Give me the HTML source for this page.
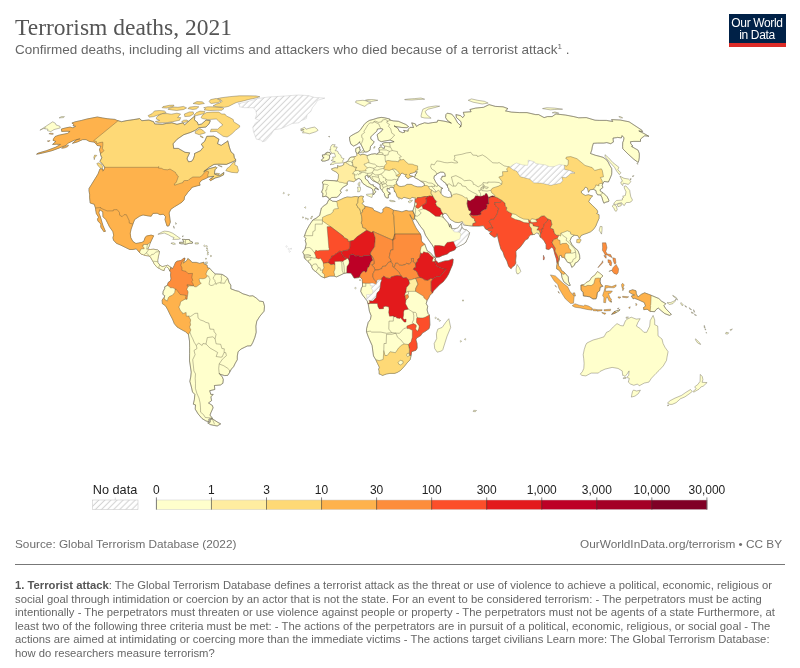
<!DOCTYPE html>
<html><head><meta charset="utf-8">
<style>
html,body{margin:0;padding:0;background:#fff;}
body{width:800px;height:668px;position:relative;overflow:hidden;font-family:"Liberation Sans",Arial,sans-serif;}
.title{position:absolute;left:15px;top:11.8px;font-family:"Liberation Serif","Times New Roman",serif;font-size:23.5px;color:#555;white-space:nowrap;line-height:30px;}
.sub{position:absolute;left:15px;top:40.6px;font-size:13.5px;color:#666;white-space:nowrap;line-height:17px;}
.sub sup{font-size:8px;vertical-align:0;position:relative;top:-5px;}
.logo{position:absolute;left:728.5px;top:14px;width:57px;height:32.5px;background:#002147;border-bottom:0;color:#fff;text-align:center;font-size:12px;line-height:12px;letter-spacing:-0.35px;box-sizing:border-box;padding-top:3px;}
.logo:after{content:"";position:absolute;left:0;right:0;bottom:0;height:3.5px;background:#dc2b27;}
.src{position:absolute;left:15px;top:537.3px;line-height:14px;font-size:11.8px;color:#6e6e6e;white-space:nowrap;}
.cc{position:absolute;right:18px;top:537.3px;line-height:14px;font-size:11.8px;color:#6e6e6e;white-space:nowrap;}
.hr{position:absolute;left:15px;width:770px;top:563.7px;height:1px;background:#777;}
.fn{position:absolute;left:15px;top:579.3px;width:785px;font-size:11.27px;line-height:13.5px;color:#666;white-space:nowrap;}
.fn b{color:#555;}
svg{position:absolute;left:0;top:0;}
</style></head><body>
<div class="title">Terrorism deaths, 2021</div>
<div class="sub">Confirmed deaths, including all victims and attackers who died because of a terrorist attack<sup>1</sup> .</div>
<div class="logo">Our World<br>in Data</div>
<svg width="800" height="668" viewBox="0 0 800 668"><defs><pattern id="h" width="4.3" height="4.3" patternUnits="userSpaceOnUse" patternTransform="rotate(45)"><rect width="4.3" height="4.3" fill="#fff"/><line x1="2" y1="0" x2="2" y2="4.3" stroke="#c6c6c6" stroke-width="0.8"/></pattern><clipPath id="c0"><path d="M61.4,129.0L66.7,127.7L70.1,127.1L73.0,127.9L75.7,126.2L73.0,125.8L74.0,124.3L71.9,123.1L74.9,121.9L81.7,120.4L87.0,119.0L97.3,117.0L102.7,118.0L107.8,118.8L114.8,119.4L116.8,120.3L121.6,121.7L126.0,120.7L133.6,119.6L139.6,118.6L141.9,120.7L148.9,120.0L153.6,121.7L154.7,123.9L162.4,124.3L166.4,123.4L171.9,122.8L177.0,124.3L183.1,122.8L184.6,124.9L188.0,121.7L194.9,115.8L194.5,119.6L195.7,121.1L197.3,122.1L198.4,124.9L201.7,123.9L206.1,120.0L210.4,120.7L209.0,123.9L205.9,127.1L198.9,127.7L195.3,130.3L190.4,132.5L183.8,134.7L177.2,139.2L173.2,143.7L173.2,144.4L173.7,148.4L178.3,148.4L182.3,150.7L185.0,152.3L189.7,152.8L187.3,157.8L187.1,159.0L188.5,161.8L191.6,161.3L193.3,159.0L194.5,155.4L194.5,153.5L200.5,150.7L203.3,147.2L201.3,144.2L204.6,141.4L206.8,136.3L213.8,136.1L219.0,139.2L217.5,143.7L221.2,145.4L226.4,141.9L227.8,140.8L229.4,147.2L231.0,151.9L233.8,154.2L234.4,157.8L236.0,160.1L233.1,161.6L226.4,164.4L218.8,164.2L214.0,164.4L209.1,167.3L203.7,171.7L206.1,170.2L209.6,168.5L216.0,166.8L217.0,167.8L215.0,169.8L214.6,172.2L214.5,174.1L217.2,175.1L220.0,175.3L223.9,172.4L223.5,174.9L219.6,176.8L215.3,178.0L210.5,180.7L209.5,179.5L213.8,176.3L208.6,177.0L205.1,178.8L201.7,180.2L199.4,182.9L200.1,185.2L196.9,185.9L191.8,187.4L190.7,189.3L187.8,192.3L186.1,194.8L184.5,196.8L184.1,199.8L181.9,202.2L178.3,204.5L174.6,206.7L170.9,209.2L169.1,212.9L169.9,218.7L170.3,222.1L168.9,225.9L167.0,226.1L166.2,223.4L165.0,219.6L165.6,216.7L163.3,214.2L160.0,214.7L157.2,213.2L152.9,213.4L151.2,216.2L148.1,215.9L143.0,214.9L139.6,216.2L134.6,219.6L132.9,224.1L131.1,229.1L130.2,233.3L130.8,237.8L132.9,241.5L135.9,243.5L141.4,242.5L143.7,241.5L145.4,237.1L146.6,236.1L151.1,235.1L153.6,235.8L151.5,240.3L150.0,243.5L149.0,246.5L147.5,249.2L150.3,249.5L153.6,249.2L157.9,250.0L159.5,251.5L158.4,256.5L157.7,260.2L157.9,262.7L160.0,265.2L162.1,266.7L165.4,265.9L167.6,265.2L170.0,266.7L171.0,267.4L169.8,270.9L168.6,268.4L166.5,266.7L164.6,268.4L164.1,270.6L161.9,269.9L159.2,268.4L157.2,267.4L154.5,264.4L153.2,261.9L150.7,257.5L149.3,256.0L145.4,255.5L141.2,254.0L139.5,252.5L136.3,248.8L132.9,249.5L129.7,249.5L125.6,247.5L120.5,245.0L116.4,243.3L113.6,240.3L112.9,237.8L113.7,235.3L112.9,231.6L109.4,226.6L107.6,222.9L105.9,219.6L103.0,216.7L102.8,211.7L99.7,209.7L98.8,212.9L100.3,216.7L101.4,220.4L102.9,225.4L104.2,228.6L105.4,231.3L103.8,231.6L100.8,227.1L100.9,224.1L98.0,221.1L97.5,219.1L98.6,217.2L96.3,213.4L95.7,209.7L95.5,208.0L94.2,204.2L90.2,203.0L89.6,197.3L89.7,194.8L89.0,190.6L89.1,188.4L91.6,184.4L95.4,178.3L98.0,174.1L100.0,168.8L103.0,169.3L102.8,171.2L104.5,169.0L104.6,167.3L104.0,166.1L102.5,164.2L99.9,161.3L101.8,157.8L100.5,154.7L100.5,153.5L100.1,151.9L99.5,149.5L100.9,146.1L97.1,145.4L95.9,143.7L94.0,142.1L89.4,141.4L86.1,139.6L82.6,139.6L77.4,141.9L72.5,143.3L76.8,139.6L80.1,138.8L74.0,140.3L68.3,143.1L65.8,145.4L58.1,148.4L51.9,150.7L45.6,152.3L39.5,153.7L36.6,154.2L37.9,153.2L46.5,150.7L55.7,147.2L60.6,144.4L56.4,144.2L52.6,144.4L55.9,141.4L53.0,140.3L54.0,138.1L55.2,136.5L58.9,135.2L63.1,134.3L67.6,133.4L70.1,131.4L67.0,131.2L61.7,131.4Z" clip-rule="evenodd"/></clipPath><clipPath id="c28"><path d="M179.5,243.4L181.4,243.8L183.6,243.8L185.2,244.5L189.1,243.3L192.3,243.3L192.6,242.0L189.7,240.8L189.4,239.5L185.5,239.5L182.3,239.3L183.4,240.8L184.0,242.2L181.6,242.3L179.6,242.3Z" clip-rule="evenodd"/></clipPath><clipPath id="c35"><path d="M171.0,267.4L172.3,268.9L174.2,265.7L175.5,262.4L177.1,261.2L181.1,260.4L183.4,258.5L185.0,258.0L184.4,260.7L183.3,263.2L185.4,261.7L187.2,260.2L187.8,258.5L190.9,260.9L191.9,262.4L196.3,262.4L199.5,263.4L204.0,262.2L203.9,263.9L207.1,265.2L207.5,267.7L209.6,268.2L212.4,271.4L215.2,273.9L218.9,274.1L222.2,274.4L225.4,276.4L227.6,278.1L229.1,282.6L230.8,285.1L230.8,288.8L234.1,290.0L235.2,290.5L238.5,291.3L242.9,293.8L246.3,294.8L249.6,296.0L252.9,295.8L256.2,298.0L259.5,301.0L263.3,301.7L264.5,306.2L264.1,311.2L259.9,316.2L256.8,321.1L255.9,326.1L256.2,332.3L254.9,337.3L252.9,342.3L251.0,345.8L247.3,346.0L244.2,347.5L241.1,349.0L238.1,351.7L237.3,356.0L237.3,359.7L235.2,363.4L233.6,366.7L231.4,369.1L229.5,372.6L227.7,375.4L224.6,375.6L220.6,374.4L219.2,373.4L222.4,377.1L223.3,379.6L222.9,383.3L220.4,385.0L214.4,385.5L214.8,389.5L209.7,390.7L210.8,394.4L213.2,394.4L210.9,396.9L211.6,400.6L208.5,403.0L212.3,405.4L213.1,407.8L210.9,412.7L210.0,415.1L212.5,418.4L208.9,419.1L209.1,421.7L206.0,421.0L202.1,418.6L198.1,413.9L195.2,409.1L195.5,404.9L193.3,404.2L194.4,399.3L194.8,394.4L192.5,392.0L191.4,387.0L189.8,381.3L190.7,377.1L191.2,372.1L190.3,365.9L189.5,360.9L189.6,353.5L189.6,347.3L189.5,341.0L188.4,334.4L185.6,331.8L181.0,329.3L177.0,326.9L174.3,323.6L172.5,319.1L169.9,314.2L167.5,309.2L165.4,305.7L162.4,303.7L162.1,300.0L164.2,297.3L164.8,295.8L162.8,294.3L163.2,291.3L164.7,288.6L164.7,286.8L167.4,285.3L168.1,282.6L170.4,280.8L171.0,278.8L170.5,275.1L170.8,272.6L169.8,270.9Z" clip-rule="evenodd"/></clipPath><clipPath id="c36"><path d="M212.3,418.9L210.1,419.8L210.2,422.2L207.7,422.9L210.3,424.6L214.4,425.5L217.2,426.0L220.7,423.9L217.6,422.2L213.9,419.8Z" clip-rule="evenodd"/></clipPath><clipPath id="c37"><path d="M328.7,199.8L329.9,199.5L332.6,201.2L336.3,201.5L340.9,199.5L344.0,198.0L347.1,197.0L351.2,197.3L355.3,196.5L358.6,196.9L361.0,196.0L362.1,196.3L363.5,196.5L362.6,198.3L363.1,200.5L363.7,201.7L361.9,203.5L363.9,205.2L364.9,206.3L368.1,207.0L372.8,208.2L373.9,210.4L377.8,211.9L381.0,213.4L383.1,211.9L382.9,209.2L385.9,207.0L389.1,207.7L393.5,210.2L397.7,210.9L402.0,211.9L406.1,210.4L408.9,211.2L412.9,210.9L414.8,215.4L414.0,219.1L413.7,219.9L412.1,218.4L409.9,214.4L409.9,215.4L412.2,219.6L413.5,222.9L416.0,227.9L417.6,230.3L420.4,234.1L421.2,236.6L421.4,240.3L422.2,242.3L424.7,244.0L426.5,249.0L427.4,251.0L430.4,252.7L433.6,256.5L435.1,257.2L435.6,259.2L434.4,259.9L435.5,260.2L438.4,262.9L441.7,261.9L444.9,260.9L448.2,260.7L452.7,258.9L453.2,259.4L452.9,262.7L452.3,265.2L450.7,268.9L448.6,273.9L446.5,277.6L443.2,281.8L440.0,284.3L436.7,287.6L433.4,291.0L432.5,293.0L430.0,295.0L428.9,297.5L427.1,300.5L426.2,303.7L427.7,306.2L427.1,309.9L428.2,313.7L429.4,314.9L429.7,319.9L429.9,324.9L429.1,328.6L425.7,331.1L422.3,333.1L420.7,335.6L416.6,338.1L415.9,339.8L417.0,343.5L417.2,348.0L416.0,350.2L411.6,351.7L411.1,355.5L410.1,359.7L407.1,362.9L404.0,366.7L400.6,370.4L397.3,372.4L394.5,373.4L389.9,373.4L386.7,373.9L382.5,375.4L380.0,374.1L379.2,374.1L379.2,370.9L378.6,369.6L379.4,367.2L377.5,363.4L375.9,359.9L373.5,356.0L372.8,351.0L372.1,345.5L370.1,341.0L368.0,336.1L366.5,331.8L366.6,328.6L368.2,322.4L370.4,319.4L371.1,315.7L369.4,311.2L368.2,304.0L367.7,303.2L367.3,301.2L365.3,298.5L362.5,295.0L360.7,291.3L361.4,288.1L362.5,286.3L362.5,283.1L362.2,279.3L360.5,277.4L359.6,277.1L358.5,277.6L356.3,277.9L354.1,278.1L352.3,275.1L350.8,273.1L346.8,272.9L344.4,273.4L343.5,273.6L340.5,275.1L336.5,276.9L334.1,276.1L329.9,276.1L324.4,277.9L321.1,276.4L317.2,272.9L315.6,271.6L313.5,270.1L311.9,267.7L311.7,266.4L310.6,264.4L308.7,262.2L308.0,261.7L305.9,259.4L304.4,258.2L304.2,256.2L304.2,255.0L302.7,252.2L305.0,249.0L306.2,244.0L305.2,240.5L305.9,238.6L304.2,236.6L306.5,230.3L309.2,225.4L312.8,220.0L316.5,217.9L319.7,215.4L320.5,211.7L321.4,208.0L324.2,205.5L326.7,204.0Z" clip-rule="evenodd"/></clipPath><clipPath id="c39"><path d="M412.9,210.9L414.0,207.2L414.3,206.5L414.9,202.7L415.1,199.5L415.5,197.8L414.1,197.8L412.0,197.3L410.1,199.0L406.9,198.0L403.9,197.3L401.8,198.8L398.6,197.5L397.1,196.8L396.1,193.3L394.5,191.1L394.1,189.3L393.5,187.6L390.4,187.1L389.1,188.6L389.6,189.3L387.3,188.1L387.1,190.6L388.4,191.8L390.1,194.3L388.4,194.5L388.3,198.0L386.9,198.0L385.6,197.3L384.4,194.8L384.5,193.6L383.2,192.3L382.0,190.3L380.2,188.1L380.1,185.4L379.9,184.7L377.9,183.2L375.8,182.0L372.8,180.7L371.0,178.8L369.5,176.3L368.4,177.5L367.7,175.8L366.8,175.3L365.1,176.3L365.5,179.0L368.0,180.7L369.3,183.4L371.4,184.7L373.5,184.9L373.1,185.9L375.2,186.9L378.4,189.1L378.3,189.8L375.3,188.1L374.4,190.1L375.8,191.8L374.6,193.3L373.9,194.5L373.1,194.3L373.1,191.8L372.6,189.3L370.8,187.9L369.6,187.4L367.1,186.4L365.4,185.2L362.9,183.4L361.9,182.0L361.2,180.0L359.7,178.8L358.1,178.5L356.8,179.7L355.8,180.0L353.9,181.7L351.5,181.2L348.9,180.7L347.1,182.0L347.3,183.4L347.3,184.7L345.3,185.9L342.5,187.6L340.3,190.6L341.3,192.6L339.7,194.3L339.3,195.3L336.8,197.3L331.8,197.5L329.7,199.0L328.1,198.0L327.7,197.0L325.7,196.3L322.6,196.8L322.9,193.1L321.5,192.3L322.9,188.8L323.2,184.7L322.3,182.0L325.0,180.2L330.0,180.5L333.9,180.7L337.3,181.0L338.3,178.3L338.5,174.6L336.6,172.2L332.2,170.0L331.6,168.8L335.1,167.8L337.8,168.1L337.5,165.6L339.0,166.4L341.3,166.1L343.8,164.7L343.9,162.8L345.6,162.3L347.3,161.6L348.4,160.1L349.7,157.8L351.2,157.1L353.9,156.8L356.1,156.3L357.0,155.4L356.7,153.2L355.7,151.6L355.7,148.8L356.4,148.1L359.8,146.8L359.6,149.3L360.7,149.8L359.5,151.2L358.7,152.3L358.4,153.4L360.9,155.4L361.2,154.4L364.0,154.4L367.2,155.6L371.4,154.2L375.0,153.7L377.1,154.3L377.7,153.2L379.4,152.3L379.2,150.5L378.8,148.4L379.9,147.0L381.5,147.0L382.8,148.1L384.3,148.4L384.6,146.3L382.7,144.4L382.5,143.3L385.1,142.6L390.4,142.6L394.1,141.7L390.8,140.3L389.5,140.2L384.8,141.0L381.2,141.7L378.3,140.1L377.7,137.2L377.1,134.7L382.0,130.7L383.0,129.2L381.0,128.6L377.5,129.0L376.7,131.4L373.3,134.3L370.7,137.0L370.9,139.2L373.4,141.0L374.2,141.9L372.6,144.2L370.5,146.5L370.0,150.2L367.1,151.9L364.5,152.1L363.8,150.2L362.3,147.0L360.8,144.0L359.7,143.1L359.6,141.7L357.8,144.0L353.6,146.1L350.9,144.2L349.7,140.3L349.5,137.0L352.0,135.2L355.3,133.4L358.6,131.8L360.9,129.2L362.3,127.1L364.4,124.3L366.6,122.1L369.5,120.4L373.3,119.4L377.7,118.0L381.2,117.4L384.7,117.8L389.8,119.0L389.9,120.1L393.5,120.9L398.4,121.3L405.9,124.5L408.6,126.6L407.0,127.7L401.9,127.5L397.6,126.8L395.0,126.4L394.0,125.8L398.1,128.6L399.4,131.4L402.7,132.7L405.0,132.0L403.6,130.3L408.1,131.2L408.3,129.2L410.1,127.3L413.5,127.5L412.5,124.9L411.7,122.8L415.4,123.9L416.4,126.4L419.0,124.7L424.6,122.8L428.1,123.4L432.6,122.6L437.2,122.1L437.8,120.2L443.8,121.1L448.4,122.1L451.4,123.2L447.4,120.4L445.6,117.6L445.9,114.6L447.2,113.2L451.6,114.0L454.7,117.6L457.6,122.8L461.2,126.0L459.7,127.5L461.4,124.9L461.0,121.7L456.5,117.6L455.9,114.6L460.5,115.6L462.8,117.6L464.3,115.6L463.3,112.3L471.1,111.7L469.9,109.5L475.6,108.1L483.5,107.3L489.1,104.6L495.4,106.4L503.1,106.8L507.9,108.6L505.5,110.9L511.4,112.1L519.4,112.6L527.0,112.6L535.6,114.6L538.6,114.6L544.1,117.6L547.4,116.6L552.1,116.6L555.2,114.4L556.2,114.0L565.3,115.0L573.8,116.6L578.7,117.8L586.3,117.6L595.0,120.2L599.3,120.4L606.4,120.4L612.7,121.5L611.6,119.6L620.1,120.0L629.1,121.8L641.9,130.2L642.6,131.6L638.8,130.9L644.2,133.6L648.9,136.3L644.7,135.8L642.5,137.4L640.5,139.2L640.5,141.4L633.8,141.4L630.5,141.7L630.8,143.7L632.8,146.1L631.6,146.5L638.1,150.2L639.3,153.5L639.3,157.3L638.9,160.1L638.2,162.5L633.5,159.0L628.2,154.2L622.8,148.8L622.6,146.5L622.7,142.6L623.6,140.3L624.0,137.9L622.1,135.6L621.4,137.9L617.4,137.4L616.8,137.6L613.0,138.1L613.4,142.1L610.7,143.7L606.8,142.6L603.8,143.1L597.6,143.1L593.4,143.3L592.3,146.8L591.8,150.0L590.5,153.5L595.8,155.4L598.0,155.9L603.0,157.3L606.5,159.7L608.4,162.5L609.5,164.9L611.7,168.5L611.8,172.2L611.6,174.6L610.1,178.3L608.4,182.0L604.1,181.5L602.8,183.7L602.2,185.6L603.0,187.4L600.0,189.8L600.5,191.3L603.2,192.8L607.2,196.8L608.9,200.2L608.6,201.5L605.8,202.2L603.9,203.2L602.8,200.5L601.9,197.3L600.6,195.0L597.6,194.8L596.3,192.8L596.0,190.6L593.4,189.3L589.8,189.8L588.5,192.3L587.5,188.1L585.3,187.1L583.7,189.8L581.3,191.3L581.5,193.1L585.2,195.5L588.4,194.8L592.6,196.0L590.5,198.0L588.6,201.7L592.5,205.5L596.8,209.7L597.9,212.2L596.5,213.4L599.0,214.7L599.0,218.4L597.0,222.9L595.8,226.1L593.3,229.6L590.5,231.8L586.9,233.3L584.4,234.1L581.4,235.3L579.4,238.3L577.8,235.6L574.3,235.2L571.4,237.3L570.0,240.8L572.1,244.8L574.8,247.8L578.0,250.7L579.6,255.2L579.8,258.9L577.5,261.9L575.0,263.2L574.5,265.2L571.8,267.4L570.7,264.4L569.9,262.9L567.7,262.4L566.4,260.7L566.1,259.7L563.9,257.5L561.7,257.2L561.3,255.2L559.4,255.7L559.5,258.9L558.3,262.7L558.7,265.9L560.4,267.7L561.6,270.6L563.9,271.9L565.3,273.4L568.3,276.9L568.5,281.3L570.3,285.3L568.8,285.6L563.8,281.8L562.0,277.6L561.3,273.4L560.9,272.8L559.0,270.1L556.7,268.9L556.6,266.4L557.1,263.9L556.4,258.9L554.8,254.0L553.6,249.0L551.8,247.0L548.9,249.5L546.2,249.0L546.1,244.5L544.1,240.8L541.5,237.8L540.3,237.3L538.6,233.3L536.4,232.8L534.9,234.3L533.0,234.6L530.7,234.8L528.8,236.6L528.0,238.6L525.3,240.0L523.1,243.3L519.9,247.5L517.3,249.5L515.8,251.5L516.1,256.0L515.6,260.2L515.8,263.2L514.2,265.7L512.5,266.7L511.1,268.7L508.7,266.4L506.9,260.9L504.4,256.5L503.0,252.0L500.9,249.0L498.9,241.8L498.0,237.8L497.6,236.1L497.1,233.6L496.4,236.6L494.1,237.3L490.1,234.3L489.5,233.1L492.1,231.6L488.8,231.1L487.4,229.8L485.6,229.1L484.5,227.1L483.3,225.6L479.1,226.1L474.8,226.1L472.8,226.1L468.3,225.6L463.5,224.9L462.2,221.6L458.3,222.6L455.0,222.1L450.4,219.4L448.6,216.7L446.5,213.7L444.2,213.2L443.5,214.3L442.4,214.3L442.6,215.9L443.6,217.8L446.3,220.9L448.1,222.9L449.8,227.1L450.1,223.9L451.4,226.1L451.6,227.6L451.7,228.6L454.7,228.6L457.8,228.1L460.3,224.9L460.8,224.0L461.4,223.4L461.8,226.6L461.8,226.9L463.3,229.1L466.8,230.1L469.7,232.8L468.0,237.6L466.1,241.5L466.2,242.0L463.5,244.0L461.0,245.3L458.3,246.5L456.4,247.4L454.6,250.0L449.9,251.7L447.2,254.0L442.5,255.5L439.3,257.0L436.0,257.3L435.3,255.7L434.7,252.7L434.2,250.2L434.0,248.0L432.1,244.8L429.7,241.5L425.5,235.3L423.6,230.3L420.6,226.6L418.9,224.1L415.7,219.1L414.4,218.9L414.9,215.8L414.9,215.3L414.8,215.4ZM397.1,184.4L396.3,182.7L396.7,181.0L397.8,180.2L397.8,178.8L399.3,176.6L400.2,175.1L401.1,173.4L402.5,173.2L404.6,174.4L406.8,174.4L405.1,176.1L407.2,178.0L408.2,178.5L410.6,177.0L412.8,176.3L409.7,175.6L409.5,174.4L410.0,173.6L412.8,172.9L414.6,172.2L415.3,171.9L417.2,171.7L416.3,173.9L415.2,174.6L415.7,175.8L414.4,176.3L413.5,176.6L415.0,177.8L418.3,179.5L420.4,181.0L424.0,183.2L424.6,185.5L421.6,186.9L417.6,186.9L414.5,186.1L411.2,184.4L407.1,184.4L404.4,186.1L401.2,186.5L399.8,186.4L397.7,185.6ZM440.9,193.3L442.5,195.5L444.8,196.8L448.1,197.5L451.9,197.0L451.6,195.9L450.6,191.8L448.7,190.6L448.8,188.8L447.5,187.1L447.5,185.2L446.5,185.2L445.8,183.2L443.2,181.5L440.6,178.8L441.8,178.0L442.0,176.3L445.3,176.3L444.9,173.4L443.2,172.2L440.3,172.2L437.6,173.6L436.8,173.6L436.2,175.1L434.4,175.8L433.9,178.3L435.7,182.0L437.7,184.7L440.2,186.9L442.8,188.4L441.3,188.8L441.1,191.3Z" clip-rule="evenodd"/></clipPath><clipPath id="c75"><path d="M322.0,161.1L324.8,161.1L328.9,159.7L329.7,157.1L329.4,155.4L330.7,154.2L329.9,152.5L327.1,152.3L325.2,153.5L325.2,154.7L322.4,154.9L322.6,157.1L324.1,157.5L322.9,158.7L321.3,159.9Z" clip-rule="evenodd"/></clipPath><clipPath id="c99"><path d="M611.6,314.4L614.0,311.7L620.1,309.7L618.4,311.2L615.0,313.2Z" clip-rule="evenodd"/></clipPath><clipPath id="c100"><path d="M580.9,285.1L584.2,284.6L586.1,282.6L589.6,280.8L591.7,277.4L594.9,275.1L597.5,271.6L599.6,273.1L603.0,275.9L600.5,278.1L600.1,281.3L600.7,283.8L602.9,286.3L600.3,287.1L599.6,290.8L597.4,292.5L596.8,296.8L596.1,298.8L593.0,299.0L589.6,296.8L586.3,296.3L583.4,296.0L583.1,292.5L581.0,290.0Z" clip-rule="evenodd"/></clipPath><clipPath id="c101"><path d="M629.4,290.8L632.7,289.8L636.0,290.8L636.3,293.8L638.0,297.0L641.4,294.3L644.7,292.8L651.2,295.3L658.8,298.5L661.6,301.2L665.8,303.7L663.9,305.7L665.8,308.7L671.4,314.4L669.5,315.4L664.9,313.7L661.2,310.7L658.2,308.0L655.8,309.9L654.6,311.7L650.2,311.4L647.1,309.2L643.8,309.7L643.5,307.5L645.6,306.2L644.3,302.5L639.0,300.0L634.6,298.3L633.1,298.8L631.4,296.0L634.7,295.0L632.6,294.3L629.3,292.3Z" clip-rule="evenodd"/></clipPath></defs><g stroke="#57533f" stroke-width="0.38" stroke-linejoin="round"><path d="M61.4,129.0L66.7,127.7L70.1,127.1L73.0,127.9L75.7,126.2L73.0,125.8L74.0,124.3L71.9,123.1L74.9,121.9L81.7,120.4L87.0,119.0L97.3,117.0L102.7,118.0L107.8,118.8L114.8,119.4L116.8,120.3L121.6,121.7L126.0,120.7L133.6,119.6L139.6,118.6L141.9,120.7L148.9,120.0L153.6,121.7L154.7,123.9L162.4,124.3L166.4,123.4L171.9,122.8L177.0,124.3L183.1,122.8L184.6,124.9L188.0,121.7L194.9,115.8L194.5,119.6L195.7,121.1L197.3,122.1L198.4,124.9L201.7,123.9L206.1,120.0L210.4,120.7L209.0,123.9L205.9,127.1L198.9,127.7L195.3,130.3L190.4,132.5L183.8,134.7L177.2,139.2L173.2,143.7L173.2,144.4L173.7,148.4L178.3,148.4L182.3,150.7L185.0,152.3L189.7,152.8L187.3,157.8L187.1,159.0L188.5,161.8L191.6,161.3L193.3,159.0L194.5,155.4L194.5,153.5L200.5,150.7L203.3,147.2L201.3,144.2L204.6,141.4L206.8,136.3L213.8,136.1L219.0,139.2L217.5,143.7L221.2,145.4L226.4,141.9L227.8,140.8L229.4,147.2L231.0,151.9L233.8,154.2L234.4,157.8L236.0,160.1L233.1,161.6L226.4,164.4L218.8,164.2L214.0,164.4L209.1,167.3L203.7,171.7L206.1,170.2L209.6,168.5L216.0,166.8L217.0,167.8L215.0,169.8L214.6,172.2L214.5,174.1L217.2,175.1L220.0,175.3L223.9,172.4L223.5,174.9L219.6,176.8L215.3,178.0L210.5,180.7L209.5,179.5L213.8,176.3L208.6,177.0L205.1,178.8L201.7,180.2L199.4,182.9L200.1,185.2L196.9,185.9L191.8,187.4L190.7,189.3L187.8,192.3L186.1,194.8L184.5,196.8L184.1,199.8L181.9,202.2L178.3,204.5L174.6,206.7L170.9,209.2L169.1,212.9L169.9,218.7L170.3,222.1L168.9,225.9L167.0,226.1L166.2,223.4L165.0,219.6L165.6,216.7L163.3,214.2L160.0,214.7L157.2,213.2L152.9,213.4L151.2,216.2L148.1,215.9L143.0,214.9L139.6,216.2L134.6,219.6L132.9,224.1L131.1,229.1L130.2,233.3L130.8,237.8L132.9,241.5L135.9,243.5L141.4,242.5L143.7,241.5L145.4,237.1L146.6,236.1L151.1,235.1L153.6,235.8L151.5,240.3L150.0,243.5L149.0,246.5L147.5,249.2L150.3,249.5L153.6,249.2L157.9,250.0L159.5,251.5L158.4,256.5L157.7,260.2L157.9,262.7L160.0,265.2L162.1,266.7L165.4,265.9L167.6,265.2L170.0,266.7L171.0,267.4L169.8,270.9L168.6,268.4L166.5,266.7L164.6,268.4L164.1,270.6L161.9,269.9L159.2,268.4L157.2,267.4L154.5,264.4L153.2,261.9L150.7,257.5L149.3,256.0L145.4,255.5L141.2,254.0L139.5,252.5L136.3,248.8L132.9,249.5L129.7,249.5L125.6,247.5L120.5,245.0L116.4,243.3L113.6,240.3L112.9,237.8L113.7,235.3L112.9,231.6L109.4,226.6L107.6,222.9L105.9,219.6L103.0,216.7L102.8,211.7L99.7,209.7L98.8,212.9L100.3,216.7L101.4,220.4L102.9,225.4L104.2,228.6L105.4,231.3L103.8,231.6L100.8,227.1L100.9,224.1L98.0,221.1L97.5,219.1L98.6,217.2L96.3,213.4L95.7,209.7L95.5,208.0L94.2,204.2L90.2,203.0L89.6,197.3L89.7,194.8L89.0,190.6L89.1,188.4L91.6,184.4L95.4,178.3L98.0,174.1L100.0,168.8L103.0,169.3L102.8,171.2L104.5,169.0L104.6,167.3L104.0,166.1L102.5,164.2L99.9,161.3L101.8,157.8L100.5,154.7L100.5,153.5L100.1,151.9L99.5,149.5L100.9,146.1L97.1,145.4L95.9,143.7L94.0,142.1L89.4,141.4L86.1,139.6L82.6,139.6L77.4,141.9L72.5,143.3L76.8,139.6L80.1,138.8L74.0,140.3L68.3,143.1L65.8,145.4L58.1,148.4L51.9,150.7L45.6,152.3L39.5,153.7L36.6,154.2L37.9,153.2L46.5,150.7L55.7,147.2L60.6,144.4L56.4,144.2L52.6,144.4L55.9,141.4L53.0,140.3L54.0,138.1L55.2,136.5L58.9,135.2L63.1,134.3L67.6,133.4L70.1,131.4L67.0,131.2L61.7,131.4Z" fill="#fed976" fill-rule="evenodd"/><g clip-path="url(#c0)"><path d="M131.8,109.5L93.6,140.8L96.4,141.4L96.8,143.7L99.7,142.6L102.8,142.1L102.9,144.9L102.4,148.4L103.9,150.7L102.2,152.5L100.0,153.7L86.7,164.9L-12.8,164.9L66.6,109.5Z" fill="#feb24c"/><path d="M90.8,167.3L157.8,167.3L158.8,166.6L158.5,168.1L161.5,168.3L163.8,169.5L167.6,169.8L170.0,169.0L175.5,172.4L175.7,173.4L177.1,174.6L176.7,175.1L178.4,176.3L176.4,182.0L175.8,182.9L174.3,183.9L174.6,185.2L178.5,183.9L183.0,182.5L183.5,181.0L184.7,180.5L188.1,180.5L189.6,179.0L192.9,177.0L199.8,177.0L201.5,176.1L203.2,174.1L204.2,172.9L206.4,171.1L208.1,171.3L208.8,171.9L207.7,175.3L208.0,176.6L208.5,177.5L221.1,182.0L211.1,239.0L59.7,239.0Z" fill="#feb24c"/><path d="M89.4,208.0L95.5,208.0L100.7,207.5L100.3,208.0L107.1,210.9L113.2,210.9L113.6,209.7L117.2,209.7L119.4,212.4L119.7,215.2L122.1,216.7L124.0,214.7L126.4,214.7L127.6,217.4L129.1,220.4L129.3,223.1L133.2,224.2L137.6,225.4L156.2,229.1L152.8,258.9L78.4,258.9Z" fill="#feb24c"/><path d="M139.7,252.7L139.9,251.2L141.3,248.8L144.1,248.8L144.2,248.0L142.3,245.9L143.2,245.9L143.3,244.5L147.4,244.5L147.4,244.3L148.1,244.3L149.4,242.8L154.4,242.8L178.1,244.0L175.9,276.4L131.9,276.4L133.5,254.0Z" fill="#ffffcc"/><path d="M147.4,244.5L146.7,249.2L147.3,249.2" fill="none"/><path d="M148.6,249.7L146.3,253.0L144.2,254.6" fill="none"/><path d="M146.3,253.0L147.7,254.2L149.1,255.5L149.3,256.0" fill="none"/><path d="M150.1,256.5L151.6,254.5L153.6,254.2L155.9,252.0L159.5,251.5" fill="none"/><path d="M153.2,261.2L155.2,261.4L157.7,261.7" fill="none"/><path d="M158.9,268.7L159.0,266.2L159.9,265.0" fill="none"/></g><path d="M61.4,129.0L66.7,127.7L70.1,127.1L73.0,127.9L75.7,126.2L73.0,125.8L74.0,124.3L71.9,123.1L74.9,121.9L81.7,120.4L87.0,119.0L97.3,117.0L102.7,118.0L107.8,118.8L114.8,119.4L116.8,120.3L121.6,121.7L126.0,120.7L133.6,119.6L139.6,118.6L141.9,120.7L148.9,120.0L153.6,121.7L154.7,123.9L162.4,124.3L166.4,123.4L171.9,122.8L177.0,124.3L183.1,122.8L184.6,124.9L188.0,121.7L194.9,115.8L194.5,119.6L195.7,121.1L197.3,122.1L198.4,124.9L201.7,123.9L206.1,120.0L210.4,120.7L209.0,123.9L205.9,127.1L198.9,127.7L195.3,130.3L190.4,132.5L183.8,134.7L177.2,139.2L173.2,143.7L173.2,144.4L173.7,148.4L178.3,148.4L182.3,150.7L185.0,152.3L189.7,152.8L187.3,157.8L187.1,159.0L188.5,161.8L191.6,161.3L193.3,159.0L194.5,155.4L194.5,153.5L200.5,150.7L203.3,147.2L201.3,144.2L204.6,141.4L206.8,136.3L213.8,136.1L219.0,139.2L217.5,143.7L221.2,145.4L226.4,141.9L227.8,140.8L229.4,147.2L231.0,151.9L233.8,154.2L234.4,157.8L236.0,160.1L233.1,161.6L226.4,164.4L218.8,164.2L214.0,164.4L209.1,167.3L203.7,171.7L206.1,170.2L209.6,168.5L216.0,166.8L217.0,167.8L215.0,169.8L214.6,172.2L214.5,174.1L217.2,175.1L220.0,175.3L223.9,172.4L223.5,174.9L219.6,176.8L215.3,178.0L210.5,180.7L209.5,179.5L213.8,176.3L208.6,177.0L205.1,178.8L201.7,180.2L199.4,182.9L200.1,185.2L196.9,185.9L191.8,187.4L190.7,189.3L187.8,192.3L186.1,194.8L184.5,196.8L184.1,199.8L181.9,202.2L178.3,204.5L174.6,206.7L170.9,209.2L169.1,212.9L169.9,218.7L170.3,222.1L168.9,225.9L167.0,226.1L166.2,223.4L165.0,219.6L165.6,216.7L163.3,214.2L160.0,214.7L157.2,213.2L152.9,213.4L151.2,216.2L148.1,215.9L143.0,214.9L139.6,216.2L134.6,219.6L132.9,224.1L131.1,229.1L130.2,233.3L130.8,237.8L132.9,241.5L135.9,243.5L141.4,242.5L143.7,241.5L145.4,237.1L146.6,236.1L151.1,235.1L153.6,235.8L151.5,240.3L150.0,243.5L149.0,246.5L147.5,249.2L150.3,249.5L153.6,249.2L157.9,250.0L159.5,251.5L158.4,256.5L157.7,260.2L157.9,262.7L160.0,265.2L162.1,266.7L165.4,265.9L167.6,265.2L170.0,266.7L171.0,267.4L169.8,270.9L168.6,268.4L166.5,266.7L164.6,268.4L164.1,270.6L161.9,269.9L159.2,268.4L157.2,267.4L154.5,264.4L153.2,261.9L150.7,257.5L149.3,256.0L145.4,255.5L141.2,254.0L139.5,252.5L136.3,248.8L132.9,249.5L129.7,249.5L125.6,247.5L120.5,245.0L116.4,243.3L113.6,240.3L112.9,237.8L113.7,235.3L112.9,231.6L109.4,226.6L107.6,222.9L105.9,219.6L103.0,216.7L102.8,211.7L99.7,209.7L98.8,212.9L100.3,216.7L101.4,220.4L102.9,225.4L104.2,228.6L105.4,231.3L103.8,231.6L100.8,227.1L100.9,224.1L98.0,221.1L97.5,219.1L98.6,217.2L96.3,213.4L95.7,209.7L95.5,208.0L94.2,204.2L90.2,203.0L89.6,197.3L89.7,194.8L89.0,190.6L89.1,188.4L91.6,184.4L95.4,178.3L98.0,174.1L100.0,168.8L103.0,169.3L102.8,171.2L104.5,169.0L104.6,167.3L104.0,166.1L102.5,164.2L99.9,161.3L101.8,157.8L100.5,154.7L100.5,153.5L100.1,151.9L99.5,149.5L100.9,146.1L97.1,145.4L95.9,143.7L94.0,142.1L89.4,141.4L86.1,139.6L82.6,139.6L77.4,141.9L72.5,143.3L76.8,139.6L80.1,138.8L74.0,140.3L68.3,143.1L65.8,145.4L58.1,148.4L51.9,150.7L45.6,152.3L39.5,153.7L36.6,154.2L37.9,153.2L46.5,150.7L55.7,147.2L60.6,144.4L56.4,144.2L52.6,144.4L55.9,141.4L53.0,140.3L54.0,138.1L55.2,136.5L58.9,135.2L63.1,134.3L67.6,133.4L70.1,131.4L67.0,131.2L61.7,131.4Z" fill="none"/><path d="M227.1,137.0L223.1,136.3L219.4,133.6L216.4,131.4L210.3,131.8L211.1,129.2L217.7,129.2L219.9,127.1L222.9,124.9L220.7,123.2L218.3,120.7L216.3,119.0L207.9,119.6L202.5,118.6L201.0,117.6L202.9,114.6L206.3,112.6L212.7,112.1L218.7,112.1L221.8,114.0L224.9,114.0L226.4,116.0L229.9,117.6L233.3,119.6L233.6,121.7L239.6,125.6L239.7,127.1L235.5,130.3L232.2,133.6L229.3,135.8Z" fill="#fed976" fill-rule="evenodd"/><path d="M205.4,132.9L199.2,134.7L195.1,133.2L195.4,131.4L199.9,128.6L202.9,130.3L204.4,131.8Z" fill="#fed976" fill-rule="evenodd"/><path d="M155.2,121.7L159.0,122.8L167.2,122.6L172.8,121.7L179.7,120.2L180.7,117.6L177.6,117.6L180.6,114.0L176.9,113.2L171.2,114.2L167.3,113.6L162.0,113.6L158.1,115.6L156.5,117.6L156.4,119.0L159.6,120.4Z" fill="#fed976" fill-rule="evenodd"/><path d="M148.1,115.6L149.2,117.2L153.8,116.6L160.7,114.0L166.2,112.6L164.3,110.9L159.5,110.5L154.5,110.9L152.1,113.6Z" fill="#fed976" fill-rule="evenodd"/><path d="M184.8,116.6L189.9,116.2L193.6,114.0L193.2,111.9L189.5,111.9L184.4,114.0Z" fill="#fed976" fill-rule="evenodd"/><path d="M193.9,115.2L196.6,115.6L203.8,113.6L204.9,111.5L200.0,111.1L196.4,112.6Z" fill="#fed976" fill-rule="evenodd"/><path d="M181.6,121.7L184.1,122.6L188.4,121.3L187.0,120.0L183.7,120.2Z" fill="#fed976" fill-rule="evenodd"/><path d="M204.1,109.9L209.5,110.5L217.2,110.3L221.6,110.3L223.9,108.6L222.6,107.7L217.4,107.1L211.3,106.8L207.6,106.8L203.7,107.7L205.5,108.6Z" fill="#fed976" fill-rule="evenodd"/><path d="M224.5,107.3L228.6,106.4L233.8,103.7L236.2,102.6L243.3,100.9L248.7,99.5L255.4,98.1L259.9,96.8L256.2,95.9L249.8,95.8L239.4,95.8L229.2,96.7L221.0,97.8L217.4,98.6L221.0,99.9L222.2,101.3L219.6,103.1L216.4,104.0L213.0,105.9L216.5,106.6L220.5,107.0Z" fill="#fed976" fill-rule="evenodd"/><path d="M211.4,103.5L218.1,102.6L221.0,101.1L218.7,99.6L216.2,98.4L210.6,99.6L209.1,101.3L210.4,103.1Z" fill="#fed976" fill-rule="evenodd"/><path d="M167.9,109.2L171.4,109.9L176.7,110.5L183.7,109.5L186.6,107.9L183.5,106.4L177.9,107.3L174.1,107.0L169.6,108.1Z" fill="#fed976" fill-rule="evenodd"/><path d="M187.9,108.6L192.6,109.5L196.3,109.0L198.9,106.8L195.1,106.4L189.8,107.1Z" fill="#fed976" fill-rule="evenodd"/><path d="M162.1,107.7L166.6,108.1L173.7,106.2L173.8,105.1L169.3,105.3L163.0,106.6Z" fill="#fed976" fill-rule="evenodd"/><path d="M193.1,103.5L199.0,104.4L204.4,103.5L202.2,101.8L196.9,101.6Z" fill="#fed976" fill-rule="evenodd"/><path d="M225.8,170.7L231.7,172.4L235.5,172.7L237.4,172.9L238.6,170.7L237.8,168.1L237.3,166.1L234.8,164.9L235.1,161.3L236.1,161.1L232.6,163.0L229.4,166.8L227.0,168.5Z" fill="#fed976" fill-rule="evenodd"/><path d="M102.5,168.8L100.1,167.8L98.3,166.1L96.8,163.5L98.8,162.8L101.4,164.4L102.8,166.6Z" fill="#fed976" fill-rule="evenodd"/><path d="M94.3,159.7L93.8,157.3L94.6,155.1L96.8,155.4L94.7,157.8Z" fill="#fed976" fill-rule="evenodd"/><path d="M217.9,165.1L221.9,166.4L222.1,167.1L218.3,165.6Z" fill="#fed976" fill-rule="evenodd"/><path d="M215.5,173.2L219.6,173.6L218.9,174.6L215.6,173.9Z" fill="#fed976" fill-rule="evenodd"/><path d="M200.3,135.6L202.9,137.0L203.2,137.9L200.5,136.7Z" fill="#fed976" fill-rule="evenodd"/><path d="M61.7,148.4L64.9,147.9L67.6,146.8L68.7,145.1L65.2,146.3L62.3,147.5Z" fill="#feb24c" fill-rule="evenodd"/><path d="M48.9,133.8L51.2,134.3L53.2,134.3L53.2,133.4L50.1,133.2Z" fill="#feb24c" fill-rule="evenodd"/><path d="M47.2,141.0L49.0,141.7L50.0,140.5Z" fill="#feb24c" fill-rule="evenodd"/><path d="M52.7,121.8L55.3,123.2L56.0,124.9L59.8,126.2L60.3,127.9L54.0,129.6L50.8,131.6L47.5,130.7L48.0,129.2L44.5,128.8L45.6,127.7L39.9,130.2Z" fill="#ffffcc" fill-rule="evenodd"/><path d="M238.0,103.7L246.6,101.8L251.9,100.3L257.7,98.6L268.4,97.0L282.0,96.2L298.3,95.0L308.4,95.6L314.4,97.4L324.9,98.1L317.6,100.3L315.4,104.0L312.4,107.7L310.8,111.5L307.2,114.6L306.3,118.6L301.1,120.7L299.0,122.8L292.4,123.4L286.9,126.0L281.2,128.6L274.1,129.8L270.9,134.7L265.4,141.0L262.6,141.7L260.5,139.9L256.4,139.2L255.1,135.8L253.4,131.4L252.8,127.1L255.6,122.8L259.7,120.7L255.2,118.6L256.6,114.6L255.8,110.5L253.3,107.7L244.5,107.7L239.5,106.8L239.7,104.9Z" fill="url(#h)" fill-rule="evenodd" stroke="#bbb"/><path d="M300.5,129.2L304.6,127.3L306.0,129.2L311.2,127.7L314.6,127.1L316.7,128.6L318.1,130.3L315.6,131.8L309.4,133.8L305.3,132.9L302.4,132.9L303.9,131.4L300.7,130.5L304.2,129.6Z" fill="#ffffcc" fill-rule="evenodd"/><path d="M157.9,234.3L162.3,231.8L164.6,231.1L168.8,231.6L172.9,233.3L176.9,236.1L180.4,238.6L178.6,239.3L172.8,239.4L174.1,237.6L171.4,236.6L168.4,234.8L164.3,233.1L161.0,233.8Z" fill="#ffffcc" fill-rule="evenodd"/><path d="M179.5,243.4L181.4,243.8L183.6,243.8L185.2,244.5L189.1,243.3L192.3,243.3L192.6,242.0L189.7,240.8L189.4,239.5L185.5,239.5L182.3,239.3L183.4,240.8L184.0,242.2L181.6,242.3L179.6,242.3Z" fill="#ffffcc" fill-rule="evenodd"/><g clip-path="url(#c28)"><path d="M185.6,239.8L185.3,244.0" fill="none"/></g><path d="M179.5,243.4L181.4,243.8L183.6,243.8L185.2,244.5L189.1,243.3L192.3,243.3L192.6,242.0L189.7,240.8L189.4,239.5L185.5,239.5L182.3,239.3L183.4,240.8L184.0,242.2L181.6,242.3L179.6,242.3Z" fill="none"/><path d="M171.0,243.3L173.7,244.5L175.5,244.0L173.9,242.8L171.1,243.0Z" fill="#ffffcc" fill-rule="evenodd"/><path d="M195.1,244.0L198.3,244.0L198.4,242.8L195.2,242.8Z" fill="#ffffcc" fill-rule="evenodd"/><path d="M205.4,263.7L207.2,263.7L207.3,261.9L205.5,262.2Z" fill="#ffffcc" fill-rule="evenodd"/><path d="M173.4,226.1L174.2,228.4L174.0,226.4Z" fill="#ffffcc" fill-rule="evenodd"/><path d="M175.5,222.6L176.5,223.4L175.8,224.4Z" fill="#ffffcc" fill-rule="evenodd"/><path d="M182.0,236.3L183.4,235.8L182.8,236.8Z" fill="#ffffcc" fill-rule="evenodd"/><path d="M171.0,267.4L172.3,268.9L174.2,265.7L175.5,262.4L177.1,261.2L181.1,260.4L183.4,258.5L185.0,258.0L184.4,260.7L183.3,263.2L185.4,261.7L187.2,260.2L187.8,258.5L190.9,260.9L191.9,262.4L196.3,262.4L199.5,263.4L204.0,262.2L203.9,263.9L207.1,265.2L207.5,267.7L209.6,268.2L212.4,271.4L215.2,273.9L218.9,274.1L222.2,274.4L225.4,276.4L227.6,278.1L229.1,282.6L230.8,285.1L230.8,288.8L234.1,290.0L235.2,290.5L238.5,291.3L242.9,293.8L246.3,294.8L249.6,296.0L252.9,295.8L256.2,298.0L259.5,301.0L263.3,301.7L264.5,306.2L264.1,311.2L259.9,316.2L256.8,321.1L255.9,326.1L256.2,332.3L254.9,337.3L252.9,342.3L251.0,345.8L247.3,346.0L244.2,347.5L241.1,349.0L238.1,351.7L237.3,356.0L237.3,359.7L235.2,363.4L233.6,366.7L231.4,369.1L229.5,372.6L227.7,375.4L224.6,375.6L220.6,374.4L219.2,373.4L222.4,377.1L223.3,379.6L222.9,383.3L220.4,385.0L214.4,385.5L214.8,389.5L209.7,390.7L210.8,394.4L213.2,394.4L210.9,396.9L211.6,400.6L208.5,403.0L212.3,405.4L213.1,407.8L210.9,412.7L210.0,415.1L212.5,418.4L208.9,419.1L209.1,421.7L206.0,421.0L202.1,418.6L198.1,413.9L195.2,409.1L195.5,404.9L193.3,404.2L194.4,399.3L194.8,394.4L192.5,392.0L191.4,387.0L189.8,381.3L190.7,377.1L191.2,372.1L190.3,365.9L189.5,360.9L189.6,353.5L189.6,347.3L189.5,341.0L188.4,334.4L185.6,331.8L181.0,329.3L177.0,326.9L174.3,323.6L172.5,319.1L169.9,314.2L167.5,309.2L165.4,305.7L162.4,303.7L162.1,300.0L164.2,297.3L164.8,295.8L162.8,294.3L163.2,291.3L164.7,288.6L164.7,286.8L167.4,285.3L168.1,282.6L170.4,280.8L171.0,278.8L170.5,275.1L170.8,272.6L169.8,270.9Z" fill="#ffffcc" fill-rule="evenodd"/><g clip-path="url(#c35)"><path d="M177.2,254.0L214.3,254.0L209.6,268.2L209.2,268.9L207.6,270.1L206.7,272.1L205.9,274.1L207.4,275.9L205.6,278.1L203.0,278.8L200.1,278.6L199.0,279.3L200.0,282.6L201.3,283.3L200.0,284.1L196.7,286.6L194.9,286.9L193.6,285.8L175.8,286.3Z" fill="#feb24c"/><path d="M164.2,297.3L164.5,299.5L166.0,300.0L167.1,301.2L168.4,297.5L169.7,296.3L172.3,295.3L174.7,292.5L175.2,289.1L182.4,283.8L187.0,299.2L185.1,299.2L180.6,301.7L180.0,305.0L178.8,307.0L180.7,311.2L182.3,312.4L182.6,313.7L186.1,312.4L186.3,316.2L188.5,316.0L190.7,319.9L190.2,322.4L190.6,324.9L189.6,326.9L190.2,328.6L190.8,329.8L189.9,332.3L188.4,334.4L185.1,338.6L157.0,338.6L153.9,297.3Z" fill="#feb24c"/><path d="M165.9,258.9L185.1,256.5L184.9,259.4L182.1,261.4L180.8,265.2L182.0,267.9L181.9,270.4L186.0,271.4L188.1,273.6L192.5,273.4L191.8,277.6L192.8,280.3L191.7,281.8L193.0,283.8L193.6,285.8L187.2,284.6L187.2,286.1L188.5,286.3L187.8,287.3L186.7,289.3L187.9,291.3L188.1,292.3L187.0,299.2L185.3,298.3L186.6,295.5L182.4,294.8L180.2,294.5L176.2,289.3L175.2,289.1L174.4,288.6L172.9,287.8L170.4,287.8L169.6,286.8L167.4,285.3L160.4,285.1Z" fill="#fd8d3c"/><path d="M207.4,275.9L208.9,276.4L209.1,277.6L210.0,279.1L209.3,282.6L209.0,284.3L211.0,285.6L213.2,285.1L214.8,283.8L216.5,284.1L217.6,283.1L219.8,282.6L220.7,283.1L222.5,283.1L224.5,283.3L225.6,281.1L227.2,278.6" fill="none"/><path d="M215.2,273.9L214.9,275.6L213.5,276.9L213.3,278.8L214.8,280.3L215.0,281.8L216.5,284.1" fill="none"/><path d="M222.2,274.4L221.2,276.4L221.6,279.3L220.7,283.1" fill="none"/><path d="M188.5,316.0L190.7,316.4L194.9,313.4L197.7,313.2L198.0,317.9L200.3,319.9L203.7,321.1L205.9,322.4L208.8,323.1L209.9,329.1L213.8,329.3L214.2,331.8L216.1,334.1L215.7,336.1L215.2,338.1L215.1,338.9L216.1,343.8L220.7,344.3L221.9,348.5L224.3,348.8L224.1,352.5L225.8,352.7L226.4,355.7L222.4,359.2L219.2,363.9L222.8,365.4L223.7,365.7L227.5,368.2L229.5,370.1L229.5,372.6" fill="none"/><path d="M219.2,363.9L218.7,368.4L219.2,373.4" fill="none"/><path d="M215.1,338.9L212.9,336.8L207.3,337.6L206.0,344.0L209.9,348.0L214.4,350.5L217.7,352.5L216.1,356.5L220.6,357.2L222.1,357.0L224.1,352.5" fill="none"/><path d="M206.0,344.0L203.0,343.5L202.1,345.5L198.6,343.0L196.3,345.5L194.2,342.3L192.7,338.6L191.4,336.1L189.9,332.3" fill="none"/><path d="M196.3,345.5L197.0,348.5L194.0,350.5L195.1,354.7L192.7,359.7L193.4,365.9L193.9,370.9L195.5,373.9L195.2,378.3L195.5,383.3L195.4,388.3L196.8,393.2L199.0,398.1L200.1,403.0L200.5,407.8L200.6,412.2L203.5,414.6L205.3,417.5L210.3,417.9L212.5,418.4" fill="none"/></g><path d="M171.0,267.4L172.3,268.9L174.2,265.7L175.5,262.4L177.1,261.2L181.1,260.4L183.4,258.5L185.0,258.0L184.4,260.7L183.3,263.2L185.4,261.7L187.2,260.2L187.8,258.5L190.9,260.9L191.9,262.4L196.3,262.4L199.5,263.4L204.0,262.2L203.9,263.9L207.1,265.2L207.5,267.7L209.6,268.2L212.4,271.4L215.2,273.9L218.9,274.1L222.2,274.4L225.4,276.4L227.6,278.1L229.1,282.6L230.8,285.1L230.8,288.8L234.1,290.0L235.2,290.5L238.5,291.3L242.9,293.8L246.3,294.8L249.6,296.0L252.9,295.8L256.2,298.0L259.5,301.0L263.3,301.7L264.5,306.2L264.1,311.2L259.9,316.2L256.8,321.1L255.9,326.1L256.2,332.3L254.9,337.3L252.9,342.3L251.0,345.8L247.3,346.0L244.2,347.5L241.1,349.0L238.1,351.7L237.3,356.0L237.3,359.7L235.2,363.4L233.6,366.7L231.4,369.1L229.5,372.6L227.7,375.4L224.6,375.6L220.6,374.4L219.2,373.4L222.4,377.1L223.3,379.6L222.9,383.3L220.4,385.0L214.4,385.5L214.8,389.5L209.7,390.7L210.8,394.4L213.2,394.4L210.9,396.9L211.6,400.6L208.5,403.0L212.3,405.4L213.1,407.8L210.9,412.7L210.0,415.1L212.5,418.4L208.9,419.1L209.1,421.7L206.0,421.0L202.1,418.6L198.1,413.9L195.2,409.1L195.5,404.9L193.3,404.2L194.4,399.3L194.8,394.4L192.5,392.0L191.4,387.0L189.8,381.3L190.7,377.1L191.2,372.1L190.3,365.9L189.5,360.9L189.6,353.5L189.6,347.3L189.5,341.0L188.4,334.4L185.6,331.8L181.0,329.3L177.0,326.9L174.3,323.6L172.5,319.1L169.9,314.2L167.5,309.2L165.4,305.7L162.4,303.7L162.1,300.0L164.2,297.3L164.8,295.8L162.8,294.3L163.2,291.3L164.7,288.6L164.7,286.8L167.4,285.3L168.1,282.6L170.4,280.8L171.0,278.8L170.5,275.1L170.8,272.6L169.8,270.9Z" fill="none"/><path d="M212.3,418.9L210.1,419.8L210.2,422.2L207.7,422.9L210.3,424.6L214.4,425.5L217.2,426.0L220.7,423.9L217.6,422.2L213.9,419.8Z" fill="#ffffcc" fill-rule="evenodd"/><g clip-path="url(#c36)"><path d="M212.4,419.0L214.6,424.4" fill="none"/></g><path d="M212.3,418.9L210.1,419.8L210.2,422.2L207.7,422.9L210.3,424.6L214.4,425.5L217.2,426.0L220.7,423.9L217.6,422.2L213.9,419.8Z" fill="none"/><path d="M328.7,199.8L329.9,199.5L332.6,201.2L336.3,201.5L340.9,199.5L344.0,198.0L347.1,197.0L351.2,197.3L355.3,196.5L358.6,196.9L361.0,196.0L362.1,196.3L363.5,196.5L362.6,198.3L363.1,200.5L363.7,201.7L361.9,203.5L363.9,205.2L364.9,206.3L368.1,207.0L372.8,208.2L373.9,210.4L377.8,211.9L381.0,213.4L383.1,211.9L382.9,209.2L385.9,207.0L389.1,207.7L393.5,210.2L397.7,210.9L402.0,211.9L406.1,210.4L408.9,211.2L412.9,210.9L414.8,215.4L414.0,219.1L413.7,219.9L412.1,218.4L409.9,214.4L409.9,215.4L412.2,219.6L413.5,222.9L416.0,227.9L417.6,230.3L420.4,234.1L421.2,236.6L421.4,240.3L422.2,242.3L424.7,244.0L426.5,249.0L427.4,251.0L430.4,252.7L433.6,256.5L435.1,257.2L435.6,259.2L434.4,259.9L435.5,260.2L438.4,262.9L441.7,261.9L444.9,260.9L448.2,260.7L452.7,258.9L453.2,259.4L452.9,262.7L452.3,265.2L450.7,268.9L448.6,273.9L446.5,277.6L443.2,281.8L440.0,284.3L436.7,287.6L433.4,291.0L432.5,293.0L430.0,295.0L428.9,297.5L427.1,300.5L426.2,303.7L427.7,306.2L427.1,309.9L428.2,313.7L429.4,314.9L429.7,319.9L429.9,324.9L429.1,328.6L425.7,331.1L422.3,333.1L420.7,335.6L416.6,338.1L415.9,339.8L417.0,343.5L417.2,348.0L416.0,350.2L411.6,351.7L411.1,355.5L410.1,359.7L407.1,362.9L404.0,366.7L400.6,370.4L397.3,372.4L394.5,373.4L389.9,373.4L386.7,373.9L382.5,375.4L380.0,374.1L379.2,374.1L379.2,370.9L378.6,369.6L379.4,367.2L377.5,363.4L375.9,359.9L373.5,356.0L372.8,351.0L372.1,345.5L370.1,341.0L368.0,336.1L366.5,331.8L366.6,328.6L368.2,322.4L370.4,319.4L371.1,315.7L369.4,311.2L368.2,304.0L367.7,303.2L367.3,301.2L365.3,298.5L362.5,295.0L360.7,291.3L361.4,288.1L362.5,286.3L362.5,283.1L362.2,279.3L360.5,277.4L359.6,277.1L358.5,277.6L356.3,277.9L354.1,278.1L352.3,275.1L350.8,273.1L346.8,272.9L344.4,273.4L343.5,273.6L340.5,275.1L336.5,276.9L334.1,276.1L329.9,276.1L324.4,277.9L321.1,276.4L317.2,272.9L315.6,271.6L313.5,270.1L311.9,267.7L311.7,266.4L310.6,264.4L308.7,262.2L308.0,261.7L305.9,259.4L304.4,258.2L304.2,256.2L304.2,255.0L302.7,252.2L305.0,249.0L306.2,244.0L305.2,240.5L305.9,238.6L304.2,236.6L306.5,230.3L309.2,225.4L312.8,220.0L316.5,217.9L319.7,215.4L320.5,211.7L321.4,208.0L324.2,205.5L326.7,204.0Z" fill="#ffffcc" fill-rule="evenodd"/><g clip-path="url(#c37)"><path d="M336.3,201.5L337.2,203.0L337.4,205.5L338.4,208.5L334.8,208.9L333.3,209.9L333.1,211.9L330.3,214.2L327.1,215.2L322.5,217.4L322.4,220.9L330.5,226.6L343.4,236.3L343.5,237.3L347.8,239.5L348.1,241.5L350.1,241.2L353.5,240.3L357.1,236.8L366.6,230.3L365.6,228.4L362.8,227.6L362.1,224.1L361.2,223.1L362.0,220.4L361.7,216.7L361.0,213.7L359.8,208.9L358.3,208.0L356.5,204.7L357.9,202.5L358.1,199.3L358.6,196.9L358.4,189.3L336.4,189.3Z" fill="#fed976"/><path d="M358.6,196.9L358.1,199.3L357.9,202.5L356.5,204.7L358.3,208.0L359.8,208.9L361.0,213.7L362.6,211.9L362.5,209.9L365.0,208.2L364.9,206.3L367.8,199.3L359.3,191.8Z" fill="#fed976"/><path d="M364.9,206.3L365.0,208.2L362.5,209.9L362.6,211.9L361.0,213.7L361.7,216.7L362.0,220.4L361.2,223.1L362.1,224.1L362.8,227.6L365.6,228.4L366.6,230.3L371.5,232.6L373.2,231.6L392.9,240.3L392.8,239.0L395.0,239.0L394.8,234.1L393.9,216.2L393.1,213.7L393.5,210.2L392.8,201.7L363.7,201.7Z" fill="#feb24c"/><path d="M393.5,210.2L393.1,213.7L393.9,216.2L394.8,234.1L420.4,234.1L427.1,234.1L424.6,206.7L393.2,206.7Z" fill="#feb24c"/><path d="M330.5,226.6L343.4,236.3L343.5,237.3L347.8,239.5L348.1,241.5L350.1,241.2L350.1,246.8L348.7,250.0L344.0,250.7L341.4,251.7L339.8,251.2L336.5,253.5L334.6,254.7L333.3,256.0L331.5,256.2L331.3,257.7L329.5,259.4L328.8,262.9L327.3,262.7L326.2,262.9L323.6,263.4L323.4,263.4L322.7,261.4L321.9,260.2L320.6,258.2L318.6,258.9L316.0,258.0L315.8,256.0L314.3,252.5L315.2,252.0L315.8,250.2L317.6,251.0L320.0,250.4L328.9,250.2L329.4,248.5L328.9,248.3L327.1,226.7L330.5,226.6Z" fill="#fc4e2a"/><path d="M341.4,251.7L339.8,251.2L336.5,253.5L334.6,254.7L333.3,256.0L331.5,256.2L331.3,257.7L329.5,259.4L328.8,262.9L330.8,264.7L333.9,264.2L335.0,265.2L334.7,261.4L340.6,261.2L342.9,261.4L344.0,260.3L346.2,259.2L345.5,257.5L343.1,256.7L343.1,255.5L341.8,254.0L341.4,251.7Z" fill="#e31a1c"/><path d="M350.1,241.2L353.5,240.3L357.1,236.8L366.6,230.3L371.5,232.6L373.2,231.6L375.3,238.1L374.6,246.8L370.6,252.7L370.6,254.7L369.1,255.5L363.8,255.7L361.7,257.0L357.9,255.7L355.8,256.2L352.9,254.2L349.9,255.2L348.8,259.7L347.0,258.0L346.2,259.2L345.5,257.5L343.1,256.7L343.1,255.5L341.8,254.0L341.4,251.7L344.0,250.7L348.7,250.0L350.1,246.8L350.1,241.2Z" fill="#e31a1c"/><path d="M348.8,259.7L349.9,255.2L352.9,254.2L355.8,256.2L357.9,255.7L361.7,257.0L363.8,255.7L369.1,255.5L370.6,254.7L371.7,256.2L372.0,258.0L372.9,260.2L371.1,261.4L370.1,263.9L369.0,266.9L367.7,267.7L366.8,271.4L365.7,272.4L364.2,271.1L362.4,271.9L360.5,274.4L359.6,277.1L358.5,283.8L347.5,278.8L346.8,272.9L346.8,269.1L347.0,266.4L348.8,263.9L349.2,262.2L348.8,259.7Z" fill="#bd0026"/><path d="M324.4,277.9L324.4,274.4L322.2,272.6L322.7,269.9L324.0,267.9L323.4,265.4L323.4,263.4L323.6,263.4L326.2,262.9L327.3,262.7L328.8,262.9L330.8,264.7L333.9,264.2L335.0,265.2L335.0,268.9L333.9,271.9L334.7,275.1L334.1,276.1L333.2,281.3L323.3,281.3Z" fill="#feb24c"/><path d="M373.2,231.6L392.9,240.3L393.2,249.7L390.8,250.0L390.0,253.5L389.2,257.2L391.0,260.4L391.1,261.7L388.4,262.4L385.7,266.2L382.6,266.4L381.7,268.7L378.2,269.9L374.9,270.1L374.3,267.9L371.6,264.7L374.0,263.9L374.0,261.9L373.5,258.5L371.7,256.2L370.6,254.7L370.6,252.7L374.6,246.8L375.3,238.1L373.2,231.6Z" fill="#fd8d3c"/><path d="M394.8,234.1L395.0,239.0L392.8,239.0L392.9,240.3L394.8,234.1L420.4,234.1L427.1,234.1L427.7,244.0L424.7,244.0L423.2,245.5L421.3,246.5L420.2,251.0L420.6,253.2L419.8,257.2L417.7,259.4L417.4,261.9L416.1,262.4L415.7,265.2L415.2,263.4L413.4,262.2L413.5,258.5L412.4,258.5L411.1,258.9L411.6,259.7L411.9,261.4L409.3,264.4L406.7,263.2L405.6,264.4L402.3,265.4L399.5,265.2L397.7,263.4L395.7,263.2L394.7,266.4L393.3,267.2L392.5,266.4L392.6,264.2L391.1,261.7L391.0,260.4L389.2,257.2L390.0,253.5L390.8,250.0L393.2,249.7L392.9,240.3Z" fill="#fd8d3c"/><path d="M393.3,267.2L394.7,266.4L395.7,263.2L397.7,263.4L399.5,265.2L402.3,265.4L405.6,264.4L406.7,263.2L409.3,264.4L411.9,261.4L411.6,259.7L411.1,258.9L412.4,258.5L413.5,258.5L413.4,262.2L415.2,263.4L415.7,265.2L415.7,267.7L414.0,267.9L413.4,269.4L415.6,270.6L417.1,272.1L418.5,275.4L419.9,277.4L415.7,278.4L413.5,279.1L411.1,279.8L408.8,280.1L406.2,277.6L403.4,278.1L401.2,276.1L398.9,272.4L396.2,269.4L393.3,267.2Z" fill="#fd8d3c"/><path d="M359.6,277.1L360.5,274.4L362.4,271.9L364.2,271.1L365.7,272.4L366.8,271.4L367.7,267.7L369.0,266.9L370.1,263.9L371.1,261.4L372.9,260.2L372.0,258.0L371.7,256.2L370.6,254.7L371.7,256.2L373.5,258.5L374.0,261.9L374.0,263.9L371.6,264.7L374.3,267.9L374.9,270.1L373.0,273.9L372.8,276.4L373.9,279.1L375.9,281.3L376.6,283.3L376.3,284.6L372.8,283.3L370.2,283.3L365.8,283.3L362.5,283.1L358.5,283.1L356.3,277.6Z" fill="#fd8d3c"/><path d="M374.9,270.1L378.2,269.9L381.7,268.7L382.6,266.4L385.7,266.2L388.4,262.4L391.1,261.7L392.6,264.2L392.5,266.4L393.3,267.2L396.2,269.4L398.9,272.4L401.2,276.1L397.0,275.6L394.6,276.1L391.3,276.9L390.2,278.6L386.2,277.9L383.8,276.1L381.8,278.1L381.8,280.1L379.4,279.8L377.4,280.1L376.6,283.3L375.9,281.3L373.9,279.1L372.8,276.4L373.0,273.9L374.9,270.1Z" fill="#fd8d3c"/><path d="M365.3,298.5L367.1,297.5L366.4,294.8L368.4,294.5L369.5,294.8L372.6,293.5L372.8,290.3L371.5,288.8L372.4,285.8L370.2,285.6L370.2,283.3L372.8,283.3L376.3,284.6L376.6,283.3L377.4,280.1L379.4,279.8L381.8,280.1L380.7,282.8L380.1,288.1L379.4,290.5L377.0,293.0L376.1,297.5L374.3,299.5L372.8,301.0L370.4,301.0L369.7,300.2L368.4,300.2L367.3,301.2L362.9,303.7Z" fill="url(#h)" stroke="#bbb"/><path d="M369.7,300.2L369.5,303.5L367.7,303.2L367.9,303.7L368.2,304.0L370.4,303.5L377.4,303.5L378.0,306.7L379.3,308.9L383.5,308.7L383.5,306.7L385.9,306.2L388.8,307.0L389.0,309.4L388.7,312.4L389.5,316.2L393.2,315.9L393.5,315.9L394.1,316.9L396.3,316.7L396.5,317.9L399.8,318.4L400.4,317.7L402.1,319.6L404.2,322.1L406.0,322.1L406.1,319.1L404.3,319.6L403.0,318.2L403.6,314.9L403.6,311.9L404.3,309.9L408.4,309.2L405.5,303.7L406.0,299.9L405.2,297.0L404.7,295.5L405.2,293.0L406.1,292.2L406.1,290.0L406.7,287.3L408.1,285.8L409.8,283.6L408.8,280.1L406.2,277.6L403.4,278.1L401.2,276.1L397.0,275.6L394.6,276.1L391.3,276.9L390.2,278.6L386.2,277.9L383.8,276.1L381.8,278.1L381.8,280.1L380.7,282.8L380.1,288.1L379.4,290.5L377.0,293.0L376.1,297.5L374.3,299.5L372.8,301.0L370.4,301.0L369.7,300.2Z" fill="#e31a1c"/><path d="M408.8,280.1L411.1,279.8L413.5,279.1L415.7,278.4L416.8,281.1L418.0,284.1L416.9,286.1L415.8,288.3L415.5,291.3L408.1,291.4L406.7,292.3L406.1,292.2L406.1,290.0L406.7,287.3L408.1,285.8L409.8,283.6L408.8,280.1Z" fill="#ffeda0"/><path d="M415.7,278.4L419.9,277.4L422.1,277.9L424.7,279.8L427.8,280.3L430.7,278.4L433.1,279.0L431.1,281.6L431.2,290.9L432.5,293.0L437.7,298.8L427.1,300.5L423.9,297.8L423.6,296.3L415.5,291.3L415.8,288.3L416.9,286.1L418.0,284.1L416.8,281.1L415.7,278.4Z" fill="#fd8d3c"/><path d="M420.6,253.2L422.7,253.5L423.6,251.7L426.0,252.5L428.2,252.7L430.5,255.2L433.6,257.7L432.4,259.9L432.4,261.4L434.9,261.6L436.5,265.4L437.4,266.4L443.9,268.9L446.3,268.9L439.9,276.4L436.6,276.6L433.3,278.6L433.1,279.0L430.7,278.4L427.8,280.3L424.7,279.8L422.1,277.9L419.9,277.4L418.5,275.4L417.1,272.1L415.6,270.6L413.4,269.4L414.0,267.9L415.7,267.7L415.7,265.2L416.1,262.4L417.4,261.9L417.7,259.4L419.8,257.2L420.6,253.2Z" fill="#e31a1c"/><path d="M435.5,260.2L434.9,261.6L436.5,265.4L437.4,266.4L443.9,268.9L446.3,268.9L439.9,276.4L436.6,276.6L433.3,278.6L433.1,279.0L431.1,281.6L431.2,290.9L432.5,293.0L439.9,298.8L461.9,276.4L456.6,254.0L435.4,258.5Z" fill="#e31a1c"/><path d="M406.0,299.9L405.2,297.0L404.7,295.5L406.7,294.8L408.0,294.8L408.7,297.0L407.8,298.3L406.0,299.9Z" fill="#fd8d3c"/><path d="M429.4,314.9L425.2,317.2L423.0,317.9L420.8,317.9L417.5,317.7L417.3,317.2L416.6,318.7L416.5,322.4L419.2,325.9L418.8,328.6L417.6,331.3L415.8,329.3L415.6,328.1L416.3,326.9L416.2,325.1L413.4,323.6L406.8,326.1L407.1,327.6L407.1,328.6L409.0,328.6L412.4,330.3L412.3,333.6L412.3,337.3L411.0,341.8L408.3,344.5L409.4,349.2L409.3,353.2L409.4,355.5L411.1,355.5L417.4,358.5L436.1,338.6L437.4,313.7Z" fill="#fc4e2a"/><path d="M375.9,359.9L377.8,360.2L379.1,360.7L383.2,359.4L383.8,350.5L385.0,355.5L387.2,355.5L390.2,351.7L395.4,352.7L398.7,347.8L401.8,345.0L404.2,344.0L408.3,344.5L409.4,349.2L409.3,353.2L409.4,355.5L411.1,355.5L417.0,363.4L392.1,383.3L365.8,375.9Z" fill="#fed976"/><path d="M398.1,362.4L400.3,360.2L403.0,361.2L403.1,363.2L400.6,364.9L398.8,364.2Z" fill="#ffffcc"/><path d="M407.2,353.5L409.1,353.2L409.4,355.5L407.6,356.7L406.6,355.2Z" fill="#ffffcc"/><path d="M312.8,220.0L322.5,220.0" fill="none"/><path d="M322.4,220.9L322.4,224.1L315.3,224.1L315.1,230.5L312.9,231.6L312.6,235.7L304.4,235.7" fill="none"/><path d="M305.0,249.0L305.4,247.8L309.4,247.5L311.5,248.8L312.8,250.7L314.3,252.5" fill="none"/><path d="M304.2,255.0L308.1,254.5L310.8,255.5L308.1,256.0L304.2,256.2" fill="none"/><path d="M304.4,258.1L308.1,257.3L310.9,257.3L314.0,258.2L316.0,258.0" fill="none"/><path d="M310.9,257.3L310.9,259.7L308.7,260.2L308.0,261.7" fill="none"/><path d="M311.7,266.4L313.5,264.2L316.3,263.9L317.6,266.2L318.3,267.7L317.4,269.4L315.6,271.6" fill="none"/><path d="M318.3,267.7L320.1,267.9L320.5,270.4L322.7,269.9" fill="none"/><path d="M340.6,261.2L341.8,263.2L342.0,266.9L342.2,270.4L343.5,273.6" fill="none"/><path d="M342.9,261.4L344.0,265.7L344.4,271.6L344.4,273.4" fill="none"/><path d="M362.5,286.3L365.8,286.3L365.8,283.3" fill="none"/><path d="M435.1,257.2L433.6,257.7" fill="none"/><path d="M408.4,309.2L413.1,312.2L415.5,312.4L416.5,313.7L416.7,316.2L417.3,317.2" fill="none"/><path d="M413.1,312.2L413.8,315.7L413.7,319.6L412.3,322.6L413.4,323.6" fill="none"/><path d="M408.0,294.8L408.7,293.0L408.1,291.4" fill="none"/><path d="M393.5,315.9L393.3,321.1L389.0,321.1L388.8,329.1L391.7,332.6" fill="none"/><path d="M366.5,331.8L370.2,331.1L371.7,332.1L380.9,332.1L386.5,333.3L391.7,332.6L395.8,333.1" fill="none"/><path d="M383.8,350.5L384.0,343.5L386.2,343.5L386.5,334.3L391.9,334.3L395.8,333.1" fill="none"/><path d="M395.8,333.1L399.5,333.3L403.8,328.6L407.1,327.6" fill="none"/><path d="M395.8,333.1L397.6,337.3L400.8,339.8L404.2,344.0" fill="none"/></g><path d="M328.7,199.8L329.9,199.5L332.6,201.2L336.3,201.5L340.9,199.5L344.0,198.0L347.1,197.0L351.2,197.3L355.3,196.5L358.6,196.9L361.0,196.0L362.1,196.3L363.5,196.5L362.6,198.3L363.1,200.5L363.7,201.7L361.9,203.5L363.9,205.2L364.9,206.3L368.1,207.0L372.8,208.2L373.9,210.4L377.8,211.9L381.0,213.4L383.1,211.9L382.9,209.2L385.9,207.0L389.1,207.7L393.5,210.2L397.7,210.9L402.0,211.9L406.1,210.4L408.9,211.2L412.9,210.9L414.8,215.4L414.0,219.1L413.7,219.9L412.1,218.4L409.9,214.4L409.9,215.4L412.2,219.6L413.5,222.9L416.0,227.9L417.6,230.3L420.4,234.1L421.2,236.6L421.4,240.3L422.2,242.3L424.7,244.0L426.5,249.0L427.4,251.0L430.4,252.7L433.6,256.5L435.1,257.2L435.6,259.2L434.4,259.9L435.5,260.2L438.4,262.9L441.7,261.9L444.9,260.9L448.2,260.7L452.7,258.9L453.2,259.4L452.9,262.7L452.3,265.2L450.7,268.9L448.6,273.9L446.5,277.6L443.2,281.8L440.0,284.3L436.7,287.6L433.4,291.0L432.5,293.0L430.0,295.0L428.9,297.5L427.1,300.5L426.2,303.7L427.7,306.2L427.1,309.9L428.2,313.7L429.4,314.9L429.7,319.9L429.9,324.9L429.1,328.6L425.7,331.1L422.3,333.1L420.7,335.6L416.6,338.1L415.9,339.8L417.0,343.5L417.2,348.0L416.0,350.2L411.6,351.7L411.1,355.5L410.1,359.7L407.1,362.9L404.0,366.7L400.6,370.4L397.3,372.4L394.5,373.4L389.9,373.4L386.7,373.9L382.5,375.4L380.0,374.1L379.2,374.1L379.2,370.9L378.6,369.6L379.4,367.2L377.5,363.4L375.9,359.9L373.5,356.0L372.8,351.0L372.1,345.5L370.1,341.0L368.0,336.1L366.5,331.8L366.6,328.6L368.2,322.4L370.4,319.4L371.1,315.7L369.4,311.2L368.2,304.0L367.7,303.2L367.3,301.2L365.3,298.5L362.5,295.0L360.7,291.3L361.4,288.1L362.5,286.3L362.5,283.1L362.2,279.3L360.5,277.4L359.6,277.1L358.5,277.6L356.3,277.9L354.1,278.1L352.3,275.1L350.8,273.1L346.8,272.9L344.4,273.4L343.5,273.6L340.5,275.1L336.5,276.9L334.1,276.1L329.9,276.1L324.4,277.9L321.1,276.4L317.2,272.9L315.6,271.6L313.5,270.1L311.9,267.7L311.7,266.4L310.6,264.4L308.7,262.2L308.0,261.7L305.9,259.4L304.4,258.2L304.2,256.2L304.2,255.0L302.7,252.2L305.0,249.0L306.2,244.0L305.2,240.5L305.9,238.6L304.2,236.6L306.5,230.3L309.2,225.4L312.8,220.0L316.5,217.9L319.7,215.4L320.5,211.7L321.4,208.0L324.2,205.5L326.7,204.0Z" fill="none"/><path d="M448.8,318.7L450.7,327.4L449.2,331.1L447.1,336.1L442.8,349.7L441.6,351.0L437.2,352.2L434.7,348.5L434.2,343.5L436.7,338.6L436.4,333.6L437.8,329.1L442.2,327.4L445.7,322.4Z" fill="#ffffcc" fill-rule="evenodd"/><path d="M412.9,210.9L414.0,207.2L414.3,206.5L414.9,202.7L415.1,199.5L415.5,197.8L414.1,197.8L412.0,197.3L410.1,199.0L406.9,198.0L403.9,197.3L401.8,198.8L398.6,197.5L397.1,196.8L396.1,193.3L394.5,191.1L394.1,189.3L393.5,187.6L390.4,187.1L389.1,188.6L389.6,189.3L387.3,188.1L387.1,190.6L388.4,191.8L390.1,194.3L388.4,194.5L388.3,198.0L386.9,198.0L385.6,197.3L384.4,194.8L384.5,193.6L383.2,192.3L382.0,190.3L380.2,188.1L380.1,185.4L379.9,184.7L377.9,183.2L375.8,182.0L372.8,180.7L371.0,178.8L369.5,176.3L368.4,177.5L367.7,175.8L366.8,175.3L365.1,176.3L365.5,179.0L368.0,180.7L369.3,183.4L371.4,184.7L373.5,184.9L373.1,185.9L375.2,186.9L378.4,189.1L378.3,189.8L375.3,188.1L374.4,190.1L375.8,191.8L374.6,193.3L373.9,194.5L373.1,194.3L373.1,191.8L372.6,189.3L370.8,187.9L369.6,187.4L367.1,186.4L365.4,185.2L362.9,183.4L361.9,182.0L361.2,180.0L359.7,178.8L358.1,178.5L356.8,179.7L355.8,180.0L353.9,181.7L351.5,181.2L348.9,180.7L347.1,182.0L347.3,183.4L347.3,184.7L345.3,185.9L342.5,187.6L340.3,190.6L341.3,192.6L339.7,194.3L339.3,195.3L336.8,197.3L331.8,197.5L329.7,199.0L328.1,198.0L327.7,197.0L325.7,196.3L322.6,196.8L322.9,193.1L321.5,192.3L322.9,188.8L323.2,184.7L322.3,182.0L325.0,180.2L330.0,180.5L333.9,180.7L337.3,181.0L338.3,178.3L338.5,174.6L336.6,172.2L332.2,170.0L331.6,168.8L335.1,167.8L337.8,168.1L337.5,165.6L339.0,166.4L341.3,166.1L343.8,164.7L343.9,162.8L345.6,162.3L347.3,161.6L348.4,160.1L349.7,157.8L351.2,157.1L353.9,156.8L356.1,156.3L357.0,155.4L356.7,153.2L355.7,151.6L355.7,148.8L356.4,148.1L359.8,146.8L359.6,149.3L360.7,149.8L359.5,151.2L358.7,152.3L358.4,153.4L360.9,155.4L361.2,154.4L364.0,154.4L367.2,155.6L371.4,154.2L375.0,153.7L377.1,154.3L377.7,153.2L379.4,152.3L379.2,150.5L378.8,148.4L379.9,147.0L381.5,147.0L382.8,148.1L384.3,148.4L384.6,146.3L382.7,144.4L382.5,143.3L385.1,142.6L390.4,142.6L394.1,141.7L390.8,140.3L389.5,140.2L384.8,141.0L381.2,141.7L378.3,140.1L377.7,137.2L377.1,134.7L382.0,130.7L383.0,129.2L381.0,128.6L377.5,129.0L376.7,131.4L373.3,134.3L370.7,137.0L370.9,139.2L373.4,141.0L374.2,141.9L372.6,144.2L370.5,146.5L370.0,150.2L367.1,151.9L364.5,152.1L363.8,150.2L362.3,147.0L360.8,144.0L359.7,143.1L359.6,141.7L357.8,144.0L353.6,146.1L350.9,144.2L349.7,140.3L349.5,137.0L352.0,135.2L355.3,133.4L358.6,131.8L360.9,129.2L362.3,127.1L364.4,124.3L366.6,122.1L369.5,120.4L373.3,119.4L377.7,118.0L381.2,117.4L384.7,117.8L389.8,119.0L389.9,120.1L393.5,120.9L398.4,121.3L405.9,124.5L408.6,126.6L407.0,127.7L401.9,127.5L397.6,126.8L395.0,126.4L394.0,125.8L398.1,128.6L399.4,131.4L402.7,132.7L405.0,132.0L403.6,130.3L408.1,131.2L408.3,129.2L410.1,127.3L413.5,127.5L412.5,124.9L411.7,122.8L415.4,123.9L416.4,126.4L419.0,124.7L424.6,122.8L428.1,123.4L432.6,122.6L437.2,122.1L437.8,120.2L443.8,121.1L448.4,122.1L451.4,123.2L447.4,120.4L445.6,117.6L445.9,114.6L447.2,113.2L451.6,114.0L454.7,117.6L457.6,122.8L461.2,126.0L459.7,127.5L461.4,124.9L461.0,121.7L456.5,117.6L455.9,114.6L460.5,115.6L462.8,117.6L464.3,115.6L463.3,112.3L471.1,111.7L469.9,109.5L475.6,108.1L483.5,107.3L489.1,104.6L495.4,106.4L503.1,106.8L507.9,108.6L505.5,110.9L511.4,112.1L519.4,112.6L527.0,112.6L535.6,114.6L538.6,114.6L544.1,117.6L547.4,116.6L552.1,116.6L555.2,114.4L556.2,114.0L565.3,115.0L573.8,116.6L578.7,117.8L586.3,117.6L595.0,120.2L599.3,120.4L606.4,120.4L612.7,121.5L611.6,119.6L620.1,120.0L629.1,121.8L641.9,130.2L642.6,131.6L638.8,130.9L644.2,133.6L648.9,136.3L644.7,135.8L642.5,137.4L640.5,139.2L640.5,141.4L633.8,141.4L630.5,141.7L630.8,143.7L632.8,146.1L631.6,146.5L638.1,150.2L639.3,153.5L639.3,157.3L638.9,160.1L638.2,162.5L633.5,159.0L628.2,154.2L622.8,148.8L622.6,146.5L622.7,142.6L623.6,140.3L624.0,137.9L622.1,135.6L621.4,137.9L617.4,137.4L616.8,137.6L613.0,138.1L613.4,142.1L610.7,143.7L606.8,142.6L603.8,143.1L597.6,143.1L593.4,143.3L592.3,146.8L591.8,150.0L590.5,153.5L595.8,155.4L598.0,155.9L603.0,157.3L606.5,159.7L608.4,162.5L609.5,164.9L611.7,168.5L611.8,172.2L611.6,174.6L610.1,178.3L608.4,182.0L604.1,181.5L602.8,183.7L602.2,185.6L603.0,187.4L600.0,189.8L600.5,191.3L603.2,192.8L607.2,196.8L608.9,200.2L608.6,201.5L605.8,202.2L603.9,203.2L602.8,200.5L601.9,197.3L600.6,195.0L597.6,194.8L596.3,192.8L596.0,190.6L593.4,189.3L589.8,189.8L588.5,192.3L587.5,188.1L585.3,187.1L583.7,189.8L581.3,191.3L581.5,193.1L585.2,195.5L588.4,194.8L592.6,196.0L590.5,198.0L588.6,201.7L592.5,205.5L596.8,209.7L597.9,212.2L596.5,213.4L599.0,214.7L599.0,218.4L597.0,222.9L595.8,226.1L593.3,229.6L590.5,231.8L586.9,233.3L584.4,234.1L581.4,235.3L579.4,238.3L577.8,235.6L574.3,235.2L571.4,237.3L570.0,240.8L572.1,244.8L574.8,247.8L578.0,250.7L579.6,255.2L579.8,258.9L577.5,261.9L575.0,263.2L574.5,265.2L571.8,267.4L570.7,264.4L569.9,262.9L567.7,262.4L566.4,260.7L566.1,259.7L563.9,257.5L561.7,257.2L561.3,255.2L559.4,255.7L559.5,258.9L558.3,262.7L558.7,265.9L560.4,267.7L561.6,270.6L563.9,271.9L565.3,273.4L568.3,276.9L568.5,281.3L570.3,285.3L568.8,285.6L563.8,281.8L562.0,277.6L561.3,273.4L560.9,272.8L559.0,270.1L556.7,268.9L556.6,266.4L557.1,263.9L556.4,258.9L554.8,254.0L553.6,249.0L551.8,247.0L548.9,249.5L546.2,249.0L546.1,244.5L544.1,240.8L541.5,237.8L540.3,237.3L538.6,233.3L536.4,232.8L534.9,234.3L533.0,234.6L530.7,234.8L528.8,236.6L528.0,238.6L525.3,240.0L523.1,243.3L519.9,247.5L517.3,249.5L515.8,251.5L516.1,256.0L515.6,260.2L515.8,263.2L514.2,265.7L512.5,266.7L511.1,268.7L508.7,266.4L506.9,260.9L504.4,256.5L503.0,252.0L500.9,249.0L498.9,241.8L498.0,237.8L497.6,236.1L497.1,233.6L496.4,236.6L494.1,237.3L490.1,234.3L489.5,233.1L492.1,231.6L488.8,231.1L487.4,229.8L485.6,229.1L484.5,227.1L483.3,225.6L479.1,226.1L474.8,226.1L472.8,226.1L468.3,225.6L463.5,224.9L462.2,221.6L458.3,222.6L455.0,222.1L450.4,219.4L448.6,216.7L446.5,213.7L444.2,213.2L443.5,214.3L442.4,214.3L442.6,215.9L443.6,217.8L446.3,220.9L448.1,222.9L449.8,227.1L450.1,223.9L451.4,226.1L451.6,227.6L451.7,228.6L454.7,228.6L457.8,228.1L460.3,224.9L460.8,224.0L461.4,223.4L461.8,226.6L461.8,226.9L463.3,229.1L466.8,230.1L469.7,232.8L468.0,237.6L466.1,241.5L466.2,242.0L463.5,244.0L461.0,245.3L458.3,246.5L456.4,247.4L454.6,250.0L449.9,251.7L447.2,254.0L442.5,255.5L439.3,257.0L436.0,257.3L435.3,255.7L434.7,252.7L434.2,250.2L434.0,248.0L432.1,244.8L429.7,241.5L425.5,235.3L423.6,230.3L420.6,226.6L418.9,224.1L415.7,219.1L414.4,218.9L414.9,215.8L414.9,215.3L414.8,215.4ZM397.1,184.4L396.3,182.7L396.7,181.0L397.8,180.2L397.8,178.8L399.3,176.6L400.2,175.1L401.1,173.4L402.5,173.2L404.6,174.4L406.8,174.4L405.1,176.1L407.2,178.0L408.2,178.5L410.6,177.0L412.8,176.3L409.7,175.6L409.5,174.4L410.0,173.6L412.8,172.9L414.6,172.2L415.3,171.9L417.2,171.7L416.3,173.9L415.2,174.6L415.7,175.8L414.4,176.3L413.5,176.6L415.0,177.8L418.3,179.5L420.4,181.0L424.0,183.2L424.6,185.5L421.6,186.9L417.6,186.9L414.5,186.1L411.2,184.4L407.1,184.4L404.4,186.1L401.2,186.5L399.8,186.4L397.7,185.6ZM440.9,193.3L442.5,195.5L444.8,196.8L448.1,197.5L451.9,197.0L451.6,195.9L450.6,191.8L448.7,190.6L448.8,188.8L447.5,187.1L447.5,185.2L446.5,185.2L445.8,183.2L443.2,181.5L440.6,178.8L441.8,178.0L442.0,176.3L445.3,176.3L444.9,173.4L443.2,172.2L440.3,172.2L437.6,173.6L436.8,173.6L436.2,175.1L434.4,175.8L433.9,178.3L435.7,182.0L437.7,184.7L440.2,186.9L442.8,188.4L441.3,188.8L441.1,191.3Z" fill="#ffffcc" fill-rule="evenodd"/><g clip-path="url(#c39)"><path d="M337.3,181.0L339.5,182.2L342.3,182.5L344.3,183.2L347.3,183.4L348.9,184.4L356.1,182.0L355.8,180.0L356.2,179.0L354.6,178.5L354.7,176.6L354.3,175.1L354.6,174.9L354.2,173.6L352.8,174.1L352.8,173.2L354.5,171.2L355.7,170.7L355.6,169.3L356.7,167.3L353.8,166.8L353.2,166.1L352.0,166.0L350.3,165.4L348.9,164.9L348.7,164.2L347.0,163.5L345.6,162.3L344.7,160.1L329.4,164.9L329.0,179.5Z" fill="#ffeda0"/><path d="M355.7,170.7L357.4,170.5L359.6,171.0L361.3,171.2L363.2,171.0L364.6,170.7L366.2,171.0L365.7,169.5L366.9,168.3L367.5,167.8L364.8,165.6L364.0,164.2L365.7,163.7L368.0,162.5L369.0,162.8L368.6,160.1L367.3,158.0L367.2,155.6L365.8,153.5L361.2,153.7L358.4,153.4L356.7,153.2L354.7,153.0L352.9,155.4L353.9,156.8L354.4,158.7L353.7,159.7L352.2,160.6L352.5,163.0L352.7,164.4L353.2,166.1L353.8,166.8L356.7,167.3L355.6,169.3L355.7,170.7Z" fill="#ffeda0"/><path d="M384.3,167.1L384.4,165.9L386.6,163.5L385.5,161.3L388.0,160.4L391.9,161.1L395.7,161.3L398.6,161.8L399.0,159.9L400.7,159.9L403.8,159.4L405.8,161.8L408.6,164.0L412.4,164.2L414.5,165.1L417.6,165.9L417.6,167.8L417.8,170.0L416.1,170.2L415.3,171.9L415.4,174.6L413.0,176.3L412.4,179.5L404.2,178.3L400.1,177.0L399.3,176.6L396.4,176.1L397.6,174.6L399.6,173.6L397.6,171.0L395.0,169.0L392.3,169.2L389.2,170.5L385.8,169.8L385.2,169.8L383.7,168.8L384.3,167.1Z" fill="#fed976"/><path d="M415.1,199.5L415.8,199.8L416.7,198.8L417.4,197.6L420.9,197.5L424.6,196.5L428.0,196.5L429.3,196.0L433.0,196.3L431.1,193.3L431.3,190.8L432.0,190.1L429.6,189.1L428.6,186.6L427.1,185.6L424.6,185.5L423.2,184.4L412.8,182.5L401.0,183.2L397.1,184.4L395.7,184.2L393.9,185.2L394.5,186.1L394.0,187.1L393.5,187.6L392.5,188.1L393.1,194.3L398.9,200.5L413.3,199.8Z" fill="#fed976"/><path d="M428.0,196.5L424.6,196.5L420.9,197.5L417.4,197.6L416.7,198.8L415.8,199.8L415.1,199.5L414.1,201.0L415.6,202.6L416.6,202.7L417.0,204.2L415.7,206.0L415.9,207.5L418.1,208.5L421.9,205.7L426.2,203.2L426.4,200.2L425.9,198.3L428.0,196.5Z" fill="#fc4e2a"/><path d="M428.0,196.5L425.9,198.3L426.4,200.2L426.2,203.2L421.9,205.7L423.1,208.8L425.7,209.4L429.4,211.4L435.6,216.2L439.6,216.4L440.4,215.2L441.7,213.9L442.4,214.3L442.9,214.9L443.5,214.3L441.6,211.7L440.3,208.2L437.0,206.2L435.6,203.5L436.8,201.5L434.7,199.3L433.0,196.3L429.3,196.0L428.0,196.5Z" fill="#e31a1c"/><path d="M432.0,190.1L433.7,191.8L435.8,192.1L438.5,190.1L439.5,191.1L440.9,193.3L445.1,193.1L450.6,194.8L451.6,195.9L453.6,194.3L456.5,193.8L458.3,194.3L462.0,195.5L465.4,197.8L467.1,197.8L467.6,200.1L467.1,203.5L467.6,206.2L469.0,210.4L470.9,210.7L471.0,212.4L469.6,214.5L472.1,217.7L474.3,218.4L474.7,221.1L475.8,221.4L475.8,222.6L472.9,223.6L472.8,226.1L468.4,226.4L463.6,225.6L461.9,222.6L458.4,223.4L455.1,223.1L450.5,220.4L448.0,217.2L446.3,214.7L444.1,214.4L443.5,214.3L441.6,211.7L440.3,208.2L437.0,206.2L435.6,203.5L436.8,201.5L434.7,199.3L433.0,196.3L431.1,193.3L431.3,190.8L432.0,190.1Z" fill="#ffeda0"/><path d="M434.0,248.0L434.7,245.5L436.5,245.5L439.1,245.5L442.4,246.0L444.2,246.5L447.1,242.5L453.6,241.5L456.4,247.4L454.4,254.0L439.4,260.2L433.8,257.0L431.3,249.0Z" fill="#e31a1c"/><path d="M451.7,228.6L454.1,231.8L459.7,232.3L460.9,234.1L459.9,239.0L453.6,241.5L456.4,247.4L460.6,249.0L472.4,234.1L462.4,221.6L459.4,223.4L454.5,226.6L451.6,227.9Z" fill="url(#h)" stroke="#bbb"/><path d="M467.6,200.1L470.1,201.0L471.7,199.8L474.0,198.5L475.6,195.8L477.5,195.9L480.3,196.3L482.5,196.0L483.5,195.3L485.0,195.3L485.2,193.8L486.8,193.6L488.1,196.3L488.4,197.5L490.4,196.5L492.5,195.8L494.9,196.2L494.4,196.7L491.3,197.3L488.6,198.3L488.7,201.7L489.0,204.0L486.8,204.2L487.1,206.5L486.4,209.2L484.2,209.7L480.8,211.9L481.1,214.4L477.5,215.4L473.3,215.7L469.6,214.5L471.0,212.4L470.9,210.7L469.0,210.4L467.6,206.2L467.1,203.5L467.6,200.1Z" fill="#a40026"/><path d="M469.6,214.5L473.3,215.7L477.5,215.4L481.1,214.4L480.8,211.9L484.2,209.7L486.4,209.2L487.1,206.5L486.8,204.2L489.0,204.0L488.7,201.7L488.6,198.3L491.3,197.3L494.4,196.7L497.1,197.5L502.1,200.5L500.5,202.5L494.7,202.5L495.0,204.7L496.8,207.2L498.8,208.5L497.8,211.4L497.2,214.2L495.5,216.7L493.8,219.4L490.8,219.4L489.3,221.6L491.0,224.6L493.0,228.1L488.5,228.4L487.4,229.8L482.9,231.6L473.0,229.1L472.8,226.1L472.9,223.6L475.8,222.6L475.8,221.4L474.7,221.1L474.3,218.4L472.1,217.7L469.6,214.5Z" fill="#fc4e2a"/><path d="M487.4,229.8L488.5,228.4L493.0,228.1L491.0,224.6L489.3,221.6L490.8,219.4L493.8,219.4L495.5,216.7L497.2,214.2L497.8,211.4L498.8,208.5L496.8,207.2L495.0,204.7L494.7,202.5L500.5,202.5L502.1,200.5L505.1,203.2L505.3,206.0L507.0,207.7L506.3,209.9L508.4,211.7L512.1,213.7L510.8,217.2L515.3,219.4L519.8,220.6L524.0,222.6L529.0,223.1L528.4,219.4L530.3,220.9L530.5,221.9L532.7,222.4L537.3,222.0L535.7,219.6L538.5,218.4L541.2,216.2L544.2,215.7L547.6,218.7L547.6,221.1L544.3,223.9L543.7,226.1L542.8,229.3L541.2,229.1L541.9,231.8L540.5,234.3L539.1,230.3L536.9,230.1L538.7,226.9L533.2,225.9L532.8,224.1L529.6,222.9L529.6,226.1L531.5,228.4L531.6,231.1L533.0,234.6L531.3,239.0L519.9,254.0L517.6,268.9L511.3,273.9L497.9,251.5L494.7,241.5L485.6,236.6Z" fill="#fc4e2a"/><path d="M533.0,234.6L531.6,231.1L531.5,228.4L529.6,226.1L529.6,222.9L532.8,224.1L533.2,225.9L538.7,226.9L536.9,230.1L539.1,230.3L540.5,234.3L540.3,237.3L537.8,239.0L533.3,237.8Z" fill="#ffeda0"/><path d="M540.5,234.3L541.9,231.8L541.2,229.1L542.8,229.3L543.7,226.1L544.3,223.9L547.6,221.1L547.6,218.7L551.0,220.1L552.0,224.6L550.3,227.9L553.3,229.1L554.6,233.6L556.8,235.3L559.1,235.2L557.3,238.2L553.4,239.8L552.1,242.8L555.5,248.5L555.0,251.0L557.7,256.2L558.8,259.4L557.4,263.2L557.1,263.9L553.7,266.4L548.5,256.5L544.8,251.5L538.9,239.0L540.3,237.3L540.5,234.3Z" fill="#fc4e2a"/><path d="M557.1,263.9L557.4,263.2L558.8,259.4L557.7,256.2L555.0,251.0L555.5,248.5L552.1,242.8L553.4,239.8L557.3,238.2L558.5,240.3L560.0,240.3L560.2,244.5L562.4,243.5L566.5,243.3L568.6,245.5L569.0,248.3L571.0,250.2L570.5,253.1L565.7,253.2L564.8,255.0L564.8,258.2L566.1,259.7L564.2,260.2L563.6,266.4L567.2,271.4L565.3,273.4L563.2,274.6L560.9,272.8L558.4,272.6L554.9,268.9L555.3,263.9Z" fill="#feb24c"/><path d="M593.4,189.3L595.3,186.9L595.9,184.9L599.1,185.9L598.5,184.4L600.7,183.4L602.5,183.4L602.1,180.7L600.4,177.5L603.5,176.8L602.3,170.5L601.3,168.8L598.3,169.5L594.7,170.5L592.2,167.6L585.0,165.4L577.0,158.7L570.7,156.6L566.4,157.1L565.8,158.7L568.3,160.1L568.2,164.2L566.8,166.1L564.2,165.3L564.6,169.8L569.5,170.5L574.8,172.9L570.4,173.4L568.9,175.3L565.6,177.5L561.6,177.0L562.7,180.7L560.1,183.2L553.7,184.4L551.0,185.2L541.0,182.9L533.7,182.7L529.9,179.0L520.3,176.6L516.7,171.0L512.8,169.5L509.7,167.0L508.7,166.8L506.6,168.8L507.6,171.5L502.5,171.7L502.8,175.8L498.8,177.0L502.0,181.5L501.8,184.2L498.7,186.1L496.1,186.9L492.5,188.1L490.8,190.3L491.7,192.8L494.8,195.3L494.9,196.2L494.4,196.7L497.1,197.5L502.1,200.5L505.1,203.2L505.3,206.0L507.0,207.7L506.3,209.9L508.4,211.7L512.1,213.7L515.4,214.4L519.5,217.2L523.7,219.1L528.4,219.4L530.3,220.9L531.7,218.7L535.7,219.6L538.5,218.4L541.2,216.2L544.2,215.7L547.6,218.7L551.0,220.1L552.0,224.6L550.3,227.9L553.3,229.1L554.6,233.6L556.8,235.3L559.1,235.2L560.6,236.1L560.9,233.1L563.7,232.3L567.3,230.8L570.5,232.1L570.7,234.1L574.3,235.2L575.6,239.0L583.4,240.3L595.7,236.6L605.2,221.6L598.4,201.7L590.7,191.8Z" fill="#fed976"/><path d="M509.7,167.0L512.8,169.5L516.7,171.0L520.3,176.6L529.9,179.0L533.7,182.7L541.0,182.9L551.0,185.2L553.7,184.4L560.1,183.2L562.7,180.7L561.6,177.0L565.6,177.5L568.9,175.3L570.4,173.4L574.8,172.9L569.5,170.5L564.6,169.8L564.2,165.3L559.5,164.4L554.1,166.6L549.3,166.6L545.4,164.9L540.2,164.2L535.6,163.5L534.3,161.8L528.2,160.1L528.1,163.7L527.5,165.4L522.5,164.9L516.3,163.0L512.5,165.1L509.7,167.0Z" fill="url(#h)" stroke="#bbb"/><path d="M323.2,184.7L324.4,184.2L327.6,184.7L328.4,185.4L327.0,186.9L326.7,190.1L325.6,190.3L326.6,193.8L325.7,196.3" fill="none"/><path d="M347.3,161.6L349.0,161.6L350.3,161.3L352.1,162.3L351.7,163.0L352.5,163.0" fill="none"/><path d="M352.7,164.4L352.0,166.0" fill="none"/><path d="M354.6,174.9L356.4,174.9L357.5,173.9L358.6,174.9L359.1,173.6L360.7,173.9L361.3,172.4L359.6,171.9L359.6,171.0" fill="none"/><path d="M361.3,172.4L364.7,172.2L365.1,172.9L367.7,173.4L367.6,174.9L367.8,175.6" fill="none"/><path d="M367.7,173.4L370.2,173.2L372.3,172.6L373.0,171.2L374.0,169.8L373.6,168.3L369.8,167.3L367.5,167.8" fill="none"/><path d="M369.0,162.8L371.3,163.5L373.1,164.0L374.7,164.2L377.1,166.1L375.6,167.6L373.6,168.3" fill="none"/><path d="M377.1,166.1L379.3,166.8L382.2,166.4L384.3,167.1" fill="none"/><path d="M374.0,169.8L377.4,170.2L379.6,169.3L382.4,168.5L383.7,168.8" fill="none"/><path d="M396.4,176.1L395.8,173.2L393.2,169.8L392.3,169.2" fill="none"/><path d="M385.2,169.8L382.9,172.9L380.7,174.2L378.0,174.9L375.2,174.9L373.2,173.4L372.3,172.6" fill="none"/><path d="M373.2,173.4L371.5,174.1L371.0,175.8L369.4,175.8L367.7,175.8" fill="none"/><path d="M378.0,174.9L378.6,177.0L378.4,177.3L374.4,176.6L372.0,176.6L372.1,177.8L373.3,179.5L375.8,181.7L377.9,183.2" fill="none"/><path d="M378.4,177.3L379.4,179.0L379.3,180.7L377.9,182.9" fill="none"/><path d="M380.7,174.2L383.3,176.6L383.2,177.5L385.4,178.0L385.9,179.0L386.6,180.0L391.6,180.2L394.5,179.3L397.8,180.2" fill="none"/><path d="M385.9,179.0L385.5,180.7L386.8,181.7L385.8,183.7L387.2,185.2L387.1,186.0L390.2,185.6L393.3,186.1L393.9,185.2" fill="none"/><path d="M387.1,186.0L384.7,187.1L383.3,187.2L382.7,189.1L382.0,190.3" fill="none"/><path d="M383.3,187.2L382.2,186.1L382.3,184.7L381.1,183.2L380.3,182.9L379.9,184.7" fill="none"/><path d="M379.3,180.7L381.5,182.5L382.3,184.7" fill="none"/><path d="M382.3,184.7L384.2,183.9L385.8,183.7" fill="none"/><path d="M381.5,182.5L383.6,181.5L384.2,183.9" fill="none"/><path d="M385.5,161.3L385.1,158.7L385.2,155.6L384.5,155.4L383.0,154.6L377.1,154.3" fill="none"/><path d="M383.0,154.6L382.8,153.0L380.0,152.3L379.4,152.3" fill="none"/><path d="M384.5,155.4L388.1,154.9L388.4,153.2L389.5,151.4L386.4,150.0L380.9,149.8L379.2,150.5" fill="none"/><path d="M389.5,151.4L392.3,150.5L390.8,147.5L390.1,147.1L387.6,146.5L385.7,146.1L384.6,146.3" fill="none"/><path d="M390.1,147.1L390.0,145.1L389.5,143.7L390.4,142.6" fill="none"/><path d="M392.3,150.5L397.4,151.6L397.6,153.5L401.4,156.6L399.3,157.5L400.7,159.9" fill="none"/><path d="M389.5,140.2L392.0,138.1L394.7,135.0L391.8,133.2L390.7,128.8L388.4,126.2L389.6,124.5L386.8,122.8L387.1,121.6L388.7,120.9L389.9,120.1" fill="none"/><path d="M387.1,121.6L387.5,120.7L385.2,119.4L382.2,120.2L382.0,121.7L378.6,122.4L375.2,121.1L373.8,121.6L379.0,124.1L379.5,126.0L381.0,128.6" fill="none"/><path d="M373.8,121.6L373.1,123.0L370.0,122.8L367.8,124.9L366.3,127.5L365.1,129.6L363.9,131.2L364.6,132.5L361.7,134.7L361.8,137.6L363.1,138.5L362.5,141.0L361.8,142.6L360.8,144.0" fill="none"/><path d="M420.4,181.0L425.6,181.5L428.5,182.9L432.0,183.2L434.3,184.8L436.3,186.4L437.3,186.4L437.7,184.7" fill="none"/><path d="M428.6,186.6L431.6,186.3L434.7,186.6L434.3,184.8" fill="none"/><path d="M431.6,186.3L433.2,188.1L435.5,190.6L435.8,192.1" fill="none"/><path d="M439.6,216.4L441.6,216.8L443.6,217.8" fill="none"/><path d="M423.1,208.8L418.7,210.4L421.1,212.9L420.2,214.2L417.4,216.2L414.9,215.8" fill="none"/><path d="M415.9,207.5L415.4,208.2L415.6,210.4L415.5,211.7L414.9,215.3" fill="none"/><path d="M414.3,206.5L415.7,206.0" fill="none"/><path d="M449.8,227.1L451.6,227.6" fill="none"/><path d="M459.7,232.3L461.1,229.1L461.8,226.9" fill="none"/><path d="M600.6,195.0L601.7,193.6L603.2,192.8" fill="none"/><path d="M560.9,233.1L563.2,235.8L566.8,238.1L566.1,240.3L569.0,242.5L572.4,246.5L574.8,249.2L575.6,252.2L572.2,253.2L570.5,253.1" fill="none"/><path d="M575.6,252.2L576.0,257.7L572.9,259.7L572.6,261.7L569.9,262.9" fill="none"/><path d="M436.8,173.6L435.1,171.0L431.7,169.0L430.6,166.6L431.4,164.0L434.2,164.9L436.8,160.9L440.1,161.3L444.3,162.5L447.2,162.8L451.8,162.3L454.9,163.0L457.7,162.8L457.2,161.6L453.9,160.1L454.9,157.8L454.4,155.6L459.3,154.7L461.4,154.4L466.3,153.0L470.8,152.3L472.8,155.1L477.1,155.4L477.5,156.6L482.5,154.9L483.6,155.6L486.1,157.1L492.8,162.8L497.7,163.0L499.1,162.5L504.2,165.9L508.7,166.8" fill="none"/><path d="M446.5,185.2L449.1,183.7L452.6,186.1L453.8,186.1L451.4,177.0L455.9,175.6L461.7,178.5L464.3,180.7L470.0,180.2L472.9,182.0L473.4,184.4L474.4,184.4L478.2,186.9L479.9,185.9L483.0,183.8L483.2,182.5L488.0,183.2L487.8,182.0L490.7,182.2L494.7,182.1L499.0,182.5L501.8,184.2" fill="none"/><path d="M453.8,186.1L456.0,186.1L457.9,182.7L461.2,183.9L462.0,185.9L465.8,186.6L467.6,189.3L472.3,192.1L477.2,194.5L477.5,195.9" fill="none"/><path d="M480.3,196.3L480.7,193.8L478.6,190.3L480.4,190.5L481.0,187.6L483.3,187.1L483.6,188.8L481.4,188.8L481.9,190.6L487.1,191.1L490.8,190.3" fill="none"/><path d="M483.0,183.8L484.4,185.6L482.4,186.1L485.2,186.6L488.4,187.4L486.8,188.6L483.3,187.1" fill="none"/><path d="M602.5,183.4L602.8,183.7" fill="none"/></g><path d="M412.9,210.9L414.0,207.2L414.3,206.5L414.9,202.7L415.1,199.5L415.5,197.8L414.1,197.8L412.0,197.3L410.1,199.0L406.9,198.0L403.9,197.3L401.8,198.8L398.6,197.5L397.1,196.8L396.1,193.3L394.5,191.1L394.1,189.3L393.5,187.6L390.4,187.1L389.1,188.6L389.6,189.3L387.3,188.1L387.1,190.6L388.4,191.8L390.1,194.3L388.4,194.5L388.3,198.0L386.9,198.0L385.6,197.3L384.4,194.8L384.5,193.6L383.2,192.3L382.0,190.3L380.2,188.1L380.1,185.4L379.9,184.7L377.9,183.2L375.8,182.0L372.8,180.7L371.0,178.8L369.5,176.3L368.4,177.5L367.7,175.8L366.8,175.3L365.1,176.3L365.5,179.0L368.0,180.7L369.3,183.4L371.4,184.7L373.5,184.9L373.1,185.9L375.2,186.9L378.4,189.1L378.3,189.8L375.3,188.1L374.4,190.1L375.8,191.8L374.6,193.3L373.9,194.5L373.1,194.3L373.1,191.8L372.6,189.3L370.8,187.9L369.6,187.4L367.1,186.4L365.4,185.2L362.9,183.4L361.9,182.0L361.2,180.0L359.7,178.8L358.1,178.5L356.8,179.7L355.8,180.0L353.9,181.7L351.5,181.2L348.9,180.7L347.1,182.0L347.3,183.4L347.3,184.7L345.3,185.9L342.5,187.6L340.3,190.6L341.3,192.6L339.7,194.3L339.3,195.3L336.8,197.3L331.8,197.5L329.7,199.0L328.1,198.0L327.7,197.0L325.7,196.3L322.6,196.8L322.9,193.1L321.5,192.3L322.9,188.8L323.2,184.7L322.3,182.0L325.0,180.2L330.0,180.5L333.9,180.7L337.3,181.0L338.3,178.3L338.5,174.6L336.6,172.2L332.2,170.0L331.6,168.8L335.1,167.8L337.8,168.1L337.5,165.6L339.0,166.4L341.3,166.1L343.8,164.7L343.9,162.8L345.6,162.3L347.3,161.6L348.4,160.1L349.7,157.8L351.2,157.1L353.9,156.8L356.1,156.3L357.0,155.4L356.7,153.2L355.7,151.6L355.7,148.8L356.4,148.1L359.8,146.8L359.6,149.3L360.7,149.8L359.5,151.2L358.7,152.3L358.4,153.4L360.9,155.4L361.2,154.4L364.0,154.4L367.2,155.6L371.4,154.2L375.0,153.7L377.1,154.3L377.7,153.2L379.4,152.3L379.2,150.5L378.8,148.4L379.9,147.0L381.5,147.0L382.8,148.1L384.3,148.4L384.6,146.3L382.7,144.4L382.5,143.3L385.1,142.6L390.4,142.6L394.1,141.7L390.8,140.3L389.5,140.2L384.8,141.0L381.2,141.7L378.3,140.1L377.7,137.2L377.1,134.7L382.0,130.7L383.0,129.2L381.0,128.6L377.5,129.0L376.7,131.4L373.3,134.3L370.7,137.0L370.9,139.2L373.4,141.0L374.2,141.9L372.6,144.2L370.5,146.5L370.0,150.2L367.1,151.9L364.5,152.1L363.8,150.2L362.3,147.0L360.8,144.0L359.7,143.1L359.6,141.7L357.8,144.0L353.6,146.1L350.9,144.2L349.7,140.3L349.5,137.0L352.0,135.2L355.3,133.4L358.6,131.8L360.9,129.2L362.3,127.1L364.4,124.3L366.6,122.1L369.5,120.4L373.3,119.4L377.7,118.0L381.2,117.4L384.7,117.8L389.8,119.0L389.9,120.1L393.5,120.9L398.4,121.3L405.9,124.5L408.6,126.6L407.0,127.7L401.9,127.5L397.6,126.8L395.0,126.4L394.0,125.8L398.1,128.6L399.4,131.4L402.7,132.7L405.0,132.0L403.6,130.3L408.1,131.2L408.3,129.2L410.1,127.3L413.5,127.5L412.5,124.9L411.7,122.8L415.4,123.9L416.4,126.4L419.0,124.7L424.6,122.8L428.1,123.4L432.6,122.6L437.2,122.1L437.8,120.2L443.8,121.1L448.4,122.1L451.4,123.2L447.4,120.4L445.6,117.6L445.9,114.6L447.2,113.2L451.6,114.0L454.7,117.6L457.6,122.8L461.2,126.0L459.7,127.5L461.4,124.9L461.0,121.7L456.5,117.6L455.9,114.6L460.5,115.6L462.8,117.6L464.3,115.6L463.3,112.3L471.1,111.7L469.9,109.5L475.6,108.1L483.5,107.3L489.1,104.6L495.4,106.4L503.1,106.8L507.9,108.6L505.5,110.9L511.4,112.1L519.4,112.6L527.0,112.6L535.6,114.6L538.6,114.6L544.1,117.6L547.4,116.6L552.1,116.6L555.2,114.4L556.2,114.0L565.3,115.0L573.8,116.6L578.7,117.8L586.3,117.6L595.0,120.2L599.3,120.4L606.4,120.4L612.7,121.5L611.6,119.6L620.1,120.0L629.1,121.8L641.9,130.2L642.6,131.6L638.8,130.9L644.2,133.6L648.9,136.3L644.7,135.8L642.5,137.4L640.5,139.2L640.5,141.4L633.8,141.4L630.5,141.7L630.8,143.7L632.8,146.1L631.6,146.5L638.1,150.2L639.3,153.5L639.3,157.3L638.9,160.1L638.2,162.5L633.5,159.0L628.2,154.2L622.8,148.8L622.6,146.5L622.7,142.6L623.6,140.3L624.0,137.9L622.1,135.6L621.4,137.9L617.4,137.4L616.8,137.6L613.0,138.1L613.4,142.1L610.7,143.7L606.8,142.6L603.8,143.1L597.6,143.1L593.4,143.3L592.3,146.8L591.8,150.0L590.5,153.5L595.8,155.4L598.0,155.9L603.0,157.3L606.5,159.7L608.4,162.5L609.5,164.9L611.7,168.5L611.8,172.2L611.6,174.6L610.1,178.3L608.4,182.0L604.1,181.5L602.8,183.7L602.2,185.6L603.0,187.4L600.0,189.8L600.5,191.3L603.2,192.8L607.2,196.8L608.9,200.2L608.6,201.5L605.8,202.2L603.9,203.2L602.8,200.5L601.9,197.3L600.6,195.0L597.6,194.8L596.3,192.8L596.0,190.6L593.4,189.3L589.8,189.8L588.5,192.3L587.5,188.1L585.3,187.1L583.7,189.8L581.3,191.3L581.5,193.1L585.2,195.5L588.4,194.8L592.6,196.0L590.5,198.0L588.6,201.7L592.5,205.5L596.8,209.7L597.9,212.2L596.5,213.4L599.0,214.7L599.0,218.4L597.0,222.9L595.8,226.1L593.3,229.6L590.5,231.8L586.9,233.3L584.4,234.1L581.4,235.3L579.4,238.3L577.8,235.6L574.3,235.2L571.4,237.3L570.0,240.8L572.1,244.8L574.8,247.8L578.0,250.7L579.6,255.2L579.8,258.9L577.5,261.9L575.0,263.2L574.5,265.2L571.8,267.4L570.7,264.4L569.9,262.9L567.7,262.4L566.4,260.7L566.1,259.7L563.9,257.5L561.7,257.2L561.3,255.2L559.4,255.7L559.5,258.9L558.3,262.7L558.7,265.9L560.4,267.7L561.6,270.6L563.9,271.9L565.3,273.4L568.3,276.9L568.5,281.3L570.3,285.3L568.8,285.6L563.8,281.8L562.0,277.6L561.3,273.4L560.9,272.8L559.0,270.1L556.7,268.9L556.6,266.4L557.1,263.9L556.4,258.9L554.8,254.0L553.6,249.0L551.8,247.0L548.9,249.5L546.2,249.0L546.1,244.5L544.1,240.8L541.5,237.8L540.3,237.3L538.6,233.3L536.4,232.8L534.9,234.3L533.0,234.6L530.7,234.8L528.8,236.6L528.0,238.6L525.3,240.0L523.1,243.3L519.9,247.5L517.3,249.5L515.8,251.5L516.1,256.0L515.6,260.2L515.8,263.2L514.2,265.7L512.5,266.7L511.1,268.7L508.7,266.4L506.9,260.9L504.4,256.5L503.0,252.0L500.9,249.0L498.9,241.8L498.0,237.8L497.6,236.1L497.1,233.6L496.4,236.6L494.1,237.3L490.1,234.3L489.5,233.1L492.1,231.6L488.8,231.1L487.4,229.8L485.6,229.1L484.5,227.1L483.3,225.6L479.1,226.1L474.8,226.1L472.8,226.1L468.3,225.6L463.5,224.9L462.2,221.6L458.3,222.6L455.0,222.1L450.4,219.4L448.6,216.7L446.5,213.7L444.2,213.2L443.5,214.3L442.4,214.3L442.6,215.9L443.6,217.8L446.3,220.9L448.1,222.9L449.8,227.1L450.1,223.9L451.4,226.1L451.6,227.6L451.7,228.6L454.7,228.6L457.8,228.1L460.3,224.9L460.8,224.0L461.4,223.4L461.8,226.6L461.8,226.9L463.3,229.1L466.8,230.1L469.7,232.8L468.0,237.6L466.1,241.5L466.2,242.0L463.5,244.0L461.0,245.3L458.3,246.5L456.4,247.4L454.6,250.0L449.9,251.7L447.2,254.0L442.5,255.5L439.3,257.0L436.0,257.3L435.3,255.7L434.7,252.7L434.2,250.2L434.0,248.0L432.1,244.8L429.7,241.5L425.5,235.3L423.6,230.3L420.6,226.6L418.9,224.1L415.7,219.1L414.4,218.9L414.9,215.8L414.9,215.3L414.8,215.4ZM397.1,184.4L396.3,182.7L396.7,181.0L397.8,180.2L397.8,178.8L399.3,176.6L400.2,175.1L401.1,173.4L402.5,173.2L404.6,174.4L406.8,174.4L405.1,176.1L407.2,178.0L408.2,178.5L410.6,177.0L412.8,176.3L409.7,175.6L409.5,174.4L410.0,173.6L412.8,172.9L414.6,172.2L415.3,171.9L417.2,171.7L416.3,173.9L415.2,174.6L415.7,175.8L414.4,176.3L413.5,176.6L415.0,177.8L418.3,179.5L420.4,181.0L424.0,183.2L424.6,185.5L421.6,186.9L417.6,186.9L414.5,186.1L411.2,184.4L407.1,184.4L404.4,186.1L401.2,186.5L399.8,186.4L397.7,185.6ZM440.9,193.3L442.5,195.5L444.8,196.8L448.1,197.5L451.9,197.0L451.6,195.9L450.6,191.8L448.7,190.6L448.8,188.8L447.5,187.1L447.5,185.2L446.5,185.2L445.8,183.2L443.2,181.5L440.6,178.8L441.8,178.0L442.0,176.3L445.3,176.3L444.9,173.4L443.2,172.2L440.3,172.2L437.6,173.6L436.8,173.6L436.2,175.1L434.4,175.8L433.9,178.3L435.7,182.0L437.7,184.7L440.2,186.9L442.8,188.4L441.3,188.8L441.1,191.3Z" fill="none"/><path d="M330.0,164.7L334.2,164.2L335.2,163.2L339.0,163.2L342.8,162.8L343.6,162.0L342.4,161.3L344.1,158.7L341.5,157.8L341.1,156.3L340.5,154.9L338.5,153.5L338.0,151.6L336.3,150.7L335.1,150.7L336.0,149.5L337.3,147.0L334.6,146.8L333.7,147.0L335.2,144.7L332.0,144.7L330.5,147.0L330.7,149.5L329.7,149.3L330.8,151.9L331.9,153.0L331.5,153.5L334.5,153.2L335.0,155.1L335.5,155.9L335.1,157.1L332.5,157.1L333.0,158.2L333.2,159.4L331.1,160.4L332.8,161.1L335.2,161.6L335.2,162.0L332.8,162.0Z" fill="#ffffcc" fill-rule="evenodd"/><path d="M613.7,204.2L616.1,204.5L617.8,203.5L621.6,202.7L622.9,204.7L624.4,205.5L625.6,203.2L626.7,202.5L629.4,202.5L631.2,201.7L632.5,200.0L630.8,196.8L630.1,193.1L629.7,190.3L625.9,185.9L624.2,186.4L624.3,188.1L626.0,191.8L625.3,195.5L622.6,196.3L623.7,197.3L622.4,198.0L622.4,200.0L620.5,200.2L616.4,200.5L614.3,202.7Z" fill="#ffffcc" fill-rule="evenodd"/><path d="M622.7,185.6L623.2,183.2L628.4,184.4L631.0,181.5L628.4,179.0L624.0,178.3L619.9,176.1L622.5,181.2L620.8,182.0L621.2,183.9Z" fill="#ffffcc" fill-rule="evenodd"/><path d="M612.0,206.2L614.0,204.5L616.4,206.2L617.2,209.7L616.2,211.4L614.7,210.4L613.9,208.0Z" fill="#ffffcc" fill-rule="evenodd"/><path d="M618.0,206.7L621.2,205.7L621.4,203.7L618.9,203.7L617.2,204.7Z" fill="#ffffcc" fill-rule="evenodd"/><path d="M619.4,174.6L620.9,172.7L617.8,169.8L618.9,167.3L612.8,162.5L608.6,157.8L605.0,154.7L605.1,156.6L608.9,161.3L614.5,167.3L616.6,171.0Z" fill="#ffffcc" fill-rule="evenodd"/><path d="M601.5,234.1L602.0,230.3L602.1,226.6L600.2,226.4L599.2,230.3Z" fill="#ffffcc" fill-rule="evenodd"/><path d="M516.1,268.9L517.0,264.4L519.3,267.7L520.8,271.4L518.9,273.6L517.0,273.9L516.2,271.4Z" fill="#ffffcc" fill-rule="evenodd"/><path d="M355.5,102.4L360.9,104.9L364.7,106.4L367.8,104.0L371.1,103.1L365.6,100.7L362.8,100.3L356.0,100.9Z" fill="#ffffcc" fill-rule="evenodd"/><path d="M365.5,100.2L371.3,101.5L377.8,100.3L373.5,99.6L368.0,99.5Z" fill="#ffffcc" fill-rule="evenodd"/><path d="M421.2,117.2L424.7,118.0L431.1,118.2L426.7,114.6L425.1,111.5L428.1,109.2L434.3,107.7L439.7,106.2L435.7,105.9L428.1,107.1L422.9,109.2L421.8,112.6L421.1,115.6Z" fill="#ffffcc" fill-rule="evenodd"/><path d="M404.8,99.8L411.8,100.1L418.2,99.5L424.7,99.2L420.9,98.0L414.7,98.6L408.4,99.0L404.6,99.5Z" fill="#ffffcc" fill-rule="evenodd"/><path d="M473.1,102.2L482.3,104.0L488.2,103.1L484.4,101.3L477.7,100.3L471.5,98.9L468.2,100.3Z" fill="#ffffcc" fill-rule="evenodd"/><path d="M542.5,108.6L550.5,109.9L554.4,109.5L562.6,109.2L554.7,108.1L546.8,107.7Z" fill="#ffffcc" fill-rule="evenodd"/><path d="M552.2,112.8L558.8,113.2L554.9,111.9Z" fill="#ffffcc" fill-rule="evenodd"/><path d="M620.5,117.8L622.7,117.9L620.4,116.6L618.8,116.6Z" fill="#ffffcc" fill-rule="evenodd"/><path d="M59.1,117.9L63.5,117.6L64.5,116.6L61.4,116.6Z" fill="#ffffcc" fill-rule="evenodd"/><path d="M366.5,194.3L372.8,193.8L372.0,197.5L366.6,195.3Z" fill="#ffffcc" fill-rule="evenodd"/><path d="M357.6,191.8L359.7,191.6L360.6,189.3L360.3,186.9L357.5,187.1L358.0,189.8Z" fill="#ffffcc" fill-rule="evenodd"/><path d="M358.2,185.2L359.6,185.9L359.9,182.7L359.5,182.0L358.1,183.4Z" fill="#ffffcc" fill-rule="evenodd"/><path d="M389.6,201.0L391.8,201.7L395.3,201.5L393.8,200.7L389.8,200.2Z" fill="#ffffcc" fill-rule="evenodd"/><path d="M408.0,201.7L409.5,202.7L411.5,201.7L412.5,200.0L409.3,201.0Z" fill="#ffffcc" fill-rule="evenodd"/><path d="M345.8,190.6L347.2,191.1L347.6,189.8L346.6,189.6Z" fill="#ffffcc" fill-rule="evenodd"/><path d="M361.5,152.5L363.3,153.0L363.9,151.4L363.3,150.5L361.9,150.9Z" fill="#ffffcc" fill-rule="evenodd"/><path d="M358.9,152.5L360.6,152.8L360.5,151.9L359.0,151.9Z" fill="#ffffcc" fill-rule="evenodd"/><path d="M373.8,148.4L374.9,147.5L375.0,146.3L373.8,147.2Z" fill="#ffffcc" fill-rule="evenodd"/><path d="M380.0,145.4L382.0,145.4L381.5,144.7L380.1,144.9Z" fill="#ffffcc" fill-rule="evenodd"/><path d="M398.5,198.8L399.2,199.3L399.1,198.3Z" fill="#ffffcc" fill-rule="evenodd"/><path d="M393.9,191.3L394.9,191.8L394.6,190.8Z" fill="#ffffcc" fill-rule="evenodd"/><path d="M388.8,192.1L390.6,193.8L390.3,192.6Z" fill="#ffffcc" fill-rule="evenodd"/><path d="M330.0,137.0L328.5,136.5L329.2,136.3Z" fill="#ffffcc" fill-rule="evenodd"/><path d="M630.7,180.0L631.1,178.5L630.2,178.8Z" fill="#ffffcc" fill-rule="evenodd"/><path d="M632.7,177.0L633.9,175.6L632.7,175.8Z" fill="#ffffcc" fill-rule="evenodd"/><path d="M637.7,164.4L637.5,163.0L637.0,163.5Z" fill="#ffffcc" fill-rule="evenodd"/><path d="M576.6,242.5L579.5,243.0L581.2,239.8L579.9,238.8L576.8,239.5Z" fill="#fed976" fill-rule="evenodd"/><path d="M322.0,161.1L324.8,161.1L328.9,159.7L329.7,157.1L329.4,155.4L330.7,154.2L329.9,152.5L327.1,152.3L325.2,153.5L325.2,154.7L322.4,154.9L322.6,157.1L324.1,157.5L322.9,158.7L321.3,159.9Z" fill="#ffffcc" fill-rule="evenodd"/><g clip-path="url(#c75)"><path d="M329.2,155.1L327.4,154.9L325.9,154.2L327.5,152.9" fill="none"/></g><path d="M322.0,161.1L324.8,161.1L328.9,159.7L329.7,157.1L329.4,155.4L330.7,154.2L329.9,152.5L327.1,152.3L325.2,153.5L325.2,154.7L322.4,154.9L322.6,157.1L324.1,157.5L322.9,158.7L321.3,159.9Z" fill="none"/><path d="M602.4,242.8L605.9,242.8L607.0,247.8L605.8,251.5L607.2,254.0L610.6,254.5L612.0,257.5L609.7,256.5L607.3,255.0L605.2,255.0L604.0,252.7L602.4,250.2L602.6,247.8Z" fill="#fd8d3c" fill-rule="evenodd"/><path d="M608.9,271.4L612.1,270.1L613.0,267.7L616.1,264.4L618.6,268.9L618.2,272.6L616.8,274.4L613.9,273.4L611.7,270.4Z" fill="#fd8d3c" fill-rule="evenodd"/><path d="M612.7,257.7L615.4,258.5L616.0,263.2L614.5,263.9L613.3,260.7Z" fill="#fd8d3c" fill-rule="evenodd"/><path d="M607.9,259.7L610.6,260.2L611.7,262.7L611.2,265.9L609.5,264.9L609.6,262.7L608.2,262.7Z" fill="#fd8d3c" fill-rule="evenodd"/><path d="M598.1,267.7L602.8,262.7L602.7,260.7L601.7,262.7L598.1,267.2Z" fill="#fd8d3c" fill-rule="evenodd"/><path d="M603.9,255.5L606.1,255.7L606.2,258.2L605.0,257.5Z" fill="#fd8d3c" fill-rule="evenodd"/><path d="M550.4,274.9L555.3,275.9L561.0,281.3L563.2,283.3L567.7,286.8L569.9,291.3L574.2,296.3L573.5,303.2L570.6,303.5L565.3,298.8L562.1,293.8L558.9,288.3L557.7,284.3L554.4,281.3Z" fill="#feb24c" fill-rule="evenodd"/><path d="M572.2,305.7L575.0,303.7L579.3,305.2L583.7,306.0L584.8,305.0L588.5,306.0L592.3,308.2L591.9,310.2L586.7,309.4L580.2,308.0L574.8,307.2Z" fill="#feb24c" fill-rule="evenodd"/><path d="M605.1,285.6L607.3,285.6L611.8,286.6L616.1,284.8L616.1,286.3L614.0,287.8L608.5,287.6L605.6,288.3L605.6,291.3L608.4,291.0L612.4,291.0L610.6,293.3L608.4,293.5L610.0,297.5L611.5,299.5L610.3,302.0L608.8,300.5L607.2,296.8L606.0,298.8L605.6,302.7L603.7,302.5L603.9,297.5L602.6,295.5L604.0,291.3L604.8,288.3Z" fill="#feb24c" fill-rule="evenodd"/><path d="M592.4,309.2L594.9,309.2L597.0,309.7L596.5,310.9L593.2,310.7Z" fill="#feb24c" fill-rule="evenodd"/><path d="M597.2,309.7L602.1,309.7L602.0,310.7L597.1,311.2Z" fill="#feb24c" fill-rule="evenodd"/><path d="M604.0,309.7L610.7,309.2L610.3,310.7L604.2,310.9Z" fill="#feb24c" fill-rule="evenodd"/><path d="M601.9,312.4L605.8,313.2L605.0,314.4L601.9,312.9Z" fill="#feb24c" fill-rule="evenodd"/><path d="M621.6,284.3L622.7,283.3L624.3,285.1L622.8,287.6L624.1,288.1L622.8,290.8L622.4,288.3L621.7,286.3Z" fill="#feb24c" fill-rule="evenodd"/><path d="M622.6,296.3L628.7,296.8L627.0,297.8L622.6,297.3Z" fill="#feb24c" fill-rule="evenodd"/><path d="M618.2,296.8L620.8,297.0L619.9,298.3L618.1,297.8Z" fill="#feb24c" fill-rule="evenodd"/><path d="M572.7,293.0L574.7,292.8L575.5,296.0L574.0,295.8Z" fill="#feb24c" fill-rule="evenodd"/><path d="M554.9,285.3L556.5,287.3L555.6,285.8Z" fill="#feb24c" fill-rule="evenodd"/><path d="M558.2,291.3L559.5,293.3L558.6,292.8Z" fill="#feb24c" fill-rule="evenodd"/><path d="M635.9,303.2L636.9,304.7L636.0,305.7Z" fill="#feb24c" fill-rule="evenodd"/><path d="M628.6,307.7L630.2,306.7L629.8,308.5Z" fill="#feb24c" fill-rule="evenodd"/><path d="M611.0,300.7L611.8,302.0L610.9,302.5Z" fill="#feb24c" fill-rule="evenodd"/><path d="M617.3,308.7L619.1,308.0L618.2,308.7Z" fill="#feb24c" fill-rule="evenodd"/><path d="M611.6,314.4L614.0,311.7L620.1,309.7L618.4,311.2L615.0,313.2Z" fill="#feb24c" fill-rule="evenodd"/><g clip-path="url(#c99)"><path d="M615.2,310.7L621.9,308.7L619.4,312.4L615.2,312.7Z" fill="#ffffcc"/></g><path d="M611.6,314.4L614.0,311.7L620.1,309.7L618.4,311.2L615.0,313.2Z" fill="none"/><path d="M580.9,285.1L584.2,284.6L586.1,282.6L589.6,280.8L591.7,277.4L594.9,275.1L597.5,271.6L599.6,273.1L603.0,275.9L600.5,278.1L600.1,281.3L600.7,283.8L602.9,286.3L600.3,287.1L599.6,290.8L597.4,292.5L596.8,296.8L596.1,298.8L593.0,299.0L589.6,296.8L586.3,296.3L583.4,296.0L583.1,292.5L581.0,290.0Z" fill="#feb24c" fill-rule="evenodd"/><g clip-path="url(#c100)"><path d="M582.3,283.6L582.9,285.6L585.3,286.3L587.9,285.3L591.2,285.6L593.8,283.8L594.4,281.3L595.2,278.4L598.3,278.0L600.3,278.4L607.0,276.4L599.8,266.4L578.5,278.8Z" fill="#ffffcc"/></g><path d="M580.9,285.1L584.2,284.6L586.1,282.6L589.6,280.8L591.7,277.4L594.9,275.1L597.5,271.6L599.6,273.1L603.0,275.9L600.5,278.1L600.1,281.3L600.7,283.8L602.9,286.3L600.3,287.1L599.6,290.8L597.4,292.5L596.8,296.8L596.1,298.8L593.0,299.0L589.6,296.8L586.3,296.3L583.4,296.0L583.1,292.5L581.0,290.0Z" fill="none"/><path d="M629.4,290.8L632.7,289.8L636.0,290.8L636.3,293.8L638.0,297.0L641.4,294.3L644.7,292.8L651.2,295.3L658.8,298.5L661.6,301.2L665.8,303.7L663.9,305.7L665.8,308.7L671.4,314.4L669.5,315.4L664.9,313.7L661.2,310.7L658.2,308.0L655.8,309.9L654.6,311.7L650.2,311.4L647.1,309.2L643.8,309.7L643.5,307.5L645.6,306.2L644.3,302.5L639.0,300.0L634.6,298.3L633.1,298.8L631.4,296.0L634.7,295.0L632.6,294.3L629.3,292.3Z" fill="#ffffcc" fill-rule="evenodd"/><g clip-path="url(#c101)"><path d="M651.5,288.8L650.7,305.0L650.3,305.7L650.6,306.2L650.0,313.7L623.7,313.7L625.0,288.8Z" fill="#feb24c"/></g><path d="M629.4,290.8L632.7,289.8L636.0,290.8L636.3,293.8L638.0,297.0L641.4,294.3L644.7,292.8L651.2,295.3L658.8,298.5L661.6,301.2L665.8,303.7L663.9,305.7L665.8,308.7L671.4,314.4L669.5,315.4L664.9,313.7L661.2,310.7L658.2,308.0L655.8,309.9L654.6,311.7L650.2,311.4L647.1,309.2L643.8,309.7L643.5,307.5L645.6,306.2L644.3,302.5L639.0,300.0L634.6,298.3L633.1,298.8L631.4,296.0L634.7,295.0L632.6,294.3L629.3,292.3Z" fill="none"/><path d="M667.0,302.7L670.7,302.5L674.1,301.0L676.0,299.2L675.2,301.2L672.8,303.7L669.5,304.5Z" fill="#ffffcc" fill-rule="evenodd"/><path d="M672.8,295.3L676.5,297.8L677.5,300.2L676.6,298.8L672.8,296.0Z" fill="#ffffcc" fill-rule="evenodd"/><path d="M681.1,302.5L683.3,305.0L682.1,305.7L680.7,303.5Z" fill="#ffffcc" fill-rule="evenodd"/><path d="M684.8,305.5L686.8,307.0L685.7,307.0Z" fill="#ffffcc" fill-rule="evenodd"/><path d="M691.4,311.9L693.5,313.2L691.7,313.2Z" fill="#ffffcc" fill-rule="evenodd"/><path d="M693.6,309.7L694.7,312.2L693.9,311.7Z" fill="#ffffcc" fill-rule="evenodd"/><path d="M694.5,314.2L696.5,315.4L694.8,315.2Z" fill="#ffffcc" fill-rule="evenodd"/><path d="M689.2,307.7L691.6,309.7L689.9,309.2Z" fill="#ffffcc" fill-rule="evenodd"/><path d="M704.3,325.4L705.1,327.9L704.1,327.4Z" fill="#ffffcc" fill-rule="evenodd"/><path d="M705.1,328.6L705.9,329.8L705.1,329.8Z" fill="#ffffcc" fill-rule="evenodd"/><path d="M706.2,332.3L706.7,333.1L706.1,333.1Z" fill="#ffffcc" fill-rule="evenodd"/><path d="M695.6,338.8L699.9,343.0L700.6,344.5L697.7,343.0L695.4,339.8Z" fill="#ffffcc" fill-rule="evenodd"/><path d="M726.0,332.3L728.7,332.8L727.7,334.1L725.6,333.8Z" fill="#ffffcc" fill-rule="evenodd"/><path d="M729.9,329.8L732.4,329.1L730.8,330.6Z" fill="#ffffcc" fill-rule="evenodd"/><path d="M586.9,343.0L593.1,340.0L598.3,338.6L604.0,336.8L606.5,332.3L609.4,331.1L613.3,326.9L617.0,323.6L620.7,325.6L623.3,325.9L625.5,320.6L627.4,319.1L631.2,317.2L636.2,319.1L640.2,318.7L637.9,322.4L636.4,326.1L640.3,328.6L643.9,332.3L646.7,332.3L649.7,326.1L650.2,320.6L653.1,315.4L654.7,319.9L654.7,324.6L657.7,326.1L658.0,332.3L658.0,335.8L662.0,339.0L663.1,343.5L665.0,347.3L668.1,351.7L667.0,357.2L666.5,360.4L663.3,365.9L659.1,370.4L656.0,373.4L651.4,378.3L648.9,382.1L644.2,383.1L639.2,385.8L637.5,384.0L633.8,385.3L630.4,384.0L628.3,382.1L629.3,378.3L626.7,377.4L628.7,375.4L629.1,370.9L627.5,373.4L625.1,376.4L623.5,375.4L622.7,375.4L622.2,370.9L618.0,368.4L612.1,367.4L605.1,369.1L600.1,371.4L598.4,373.1L591.1,373.1L585.9,375.9L581.9,375.4L580.3,374.1L582.4,371.6L583.8,368.4L584.1,363.4L583.7,358.5L583.2,354.7L584.2,349.7L585.7,345.0Z" fill="#ffffcc" fill-rule="evenodd"/><path d="M633.5,390.0L636.5,391.0L640.4,390.2L638.3,393.7L635.0,396.1L631.4,397.1L631.8,394.4L632.5,391.5Z" fill="#ffffcc" fill-rule="evenodd"/><path d="M700.3,374.4L702.3,376.6L702.9,379.6L702.1,382.3L707.1,382.6L703.1,386.3L701.2,386.8L699.0,389.2L693.6,392.2L693.0,391.5L696.2,388.8L694.7,386.8L697.8,384.5L700.1,381.3L700.2,376.4Z" fill="#ffffcc" fill-rule="evenodd"/><path d="M690.5,389.5L692.2,391.5L689.2,393.9L684.9,396.9L680.4,398.8L676.1,402.7L672.1,404.4L669.8,404.4L667.5,403.0L670.2,400.6L675.0,398.1L681.5,395.4L685.8,392.4Z" fill="#ffffcc" fill-rule="evenodd"/><path d="M623.3,377.8L625.8,377.4L626.0,378.3L623.3,378.6Z" fill="#ffffcc" fill-rule="evenodd"/><path d="M626.1,317.2L628.4,316.9L627.6,318.2L626.0,318.2Z" fill="#ffffcc" fill-rule="evenodd"/><path d="M667.8,404.9L668.9,405.2L667.5,405.9Z" fill="#ffffcc" fill-rule="evenodd"/><path d="M473.7,410.3L476.5,410.5L475.4,411.7L473.2,411.5Z" fill="#ffffcc" fill-rule="evenodd"/><path d="M206.2,248.5L207.1,247.8L207.9,248.5L207.0,249.2Z" fill="#ffffcc" fill-rule="evenodd"/><path d="M207.0,252.5L207.9,251.8L208.7,252.5L207.8,253.2Z" fill="#ffffcc" fill-rule="evenodd"/><path d="M206.4,250.5L207.4,249.8L208.2,250.5L207.3,251.2Z" fill="#ffffcc" fill-rule="evenodd"/><path d="M206.9,254.2L207.8,253.5L208.6,254.2L207.7,254.9Z" fill="#ffffcc" fill-rule="evenodd"/><path d="M210.0,256.0L210.9,255.3L211.8,256.0L210.9,256.7Z" fill="#ffffcc" fill-rule="evenodd"/><path d="M205.1,258.7L206.0,258.0L206.8,258.7L205.9,259.4Z" fill="#ffffcc" fill-rule="evenodd"/><path d="M205.7,246.3L206.6,245.6L207.5,246.3L206.5,247.0Z" fill="#ffffcc" fill-rule="evenodd"/><path d="M203.6,245.8L204.5,245.1L205.3,245.8L204.4,246.5Z" fill="#ffffcc" fill-rule="evenodd"/><path d="M305.0,218.4L305.9,217.7L306.7,218.4L305.8,219.1Z" fill="#ffffcc" fill-rule="evenodd"/><path d="M306.9,219.1L307.8,218.5L308.6,219.1L307.7,219.8Z" fill="#ffffcc" fill-rule="evenodd"/><path d="M310.3,218.2L311.2,217.5L312.0,218.2L311.1,218.9Z" fill="#ffffcc" fill-rule="evenodd"/><path d="M311.2,216.7L312.1,216.0L312.9,216.7L312.0,217.4Z" fill="#ffffcc" fill-rule="evenodd"/><path d="M302.1,217.4L302.9,216.7L303.8,217.4L302.9,218.1Z" fill="#ffffcc" fill-rule="evenodd"/><path d="M434.8,317.9L435.7,317.2L436.5,317.9L435.6,318.6Z" fill="#ffffcc" fill-rule="evenodd"/><path d="M437.1,319.1L438.0,318.5L438.9,319.1L438.0,319.8Z" fill="#ffffcc" fill-rule="evenodd"/><path d="M438.8,320.6L439.7,319.9L440.6,320.6L439.7,321.3Z" fill="#ffffcc" fill-rule="evenodd"/><path d="M462.1,300.5L463.0,299.8L463.9,300.5L463.0,301.2Z" fill="#ffffcc" fill-rule="evenodd"/><path d="M464.4,339.3L465.3,338.6L466.1,339.3L465.2,340.0Z" fill="#ffffcc" fill-rule="evenodd"/><path d="M459.9,341.3L460.8,340.6L461.6,341.3L460.7,342.0Z" fill="#ffffcc" fill-rule="evenodd"/><path d="M287.8,194.8L288.7,194.1L289.4,194.8L288.5,195.5Z" fill="#ffffcc" fill-rule="evenodd"/><path d="M282.9,193.1L283.7,192.4L284.5,193.1L283.6,193.8Z" fill="#ffffcc" fill-rule="evenodd"/><path d="M304.5,207.5L305.3,206.8L306.1,207.5L305.3,208.2Z" fill="#ffffcc" fill-rule="evenodd"/><path d="M354.6,288.1L355.4,287.4L356.3,288.1L355.4,288.8Z" fill="#ffffcc" fill-rule="evenodd"/><path d="M359.2,280.1L360.0,279.4L360.9,280.1L360.0,280.8Z" fill="#ffffcc" fill-rule="evenodd"/><path d="M287.8,249.0L288.7,248.3L289.5,249.0L288.6,249.7Z" fill="#fff" fill-rule="evenodd" stroke="#bbb"/><path d="M288.8,251.5L289.7,250.8L290.5,251.5L289.6,252.2Z" fill="#fff" fill-rule="evenodd" stroke="#bbb"/><path d="M285.7,246.5L286.6,245.8L287.4,246.5L286.5,247.2Z" fill="#fff" fill-rule="evenodd" stroke="#bbb"/><path d="M290.2,248.8L291.1,248.1L291.9,248.8L291.0,249.4Z" fill="#fff" fill-rule="evenodd" stroke="#bbb"/><path d="M543.4,255.2L544.5,257.7L544.0,259.9L543.3,259.7L543.4,257.5Z" fill="#fc4e2a" fill-rule="evenodd"/></g><g font-family="Liberation Sans, Arial, sans-serif" font-size="12" fill="#222" text-anchor="middle"><rect x="92.5" y="500" width="45.5" height="9.6" fill="url(#h)" stroke="#ccc" stroke-width="0.6"/><line x1="115.3" y1="497.5" x2="115.3" y2="500" stroke="#ccc" stroke-width="0.6"/><text x="115" y="494" font-size="12.7">No data</text><rect x="156.40" y="500" width="55.35" height="9.6" fill="#ffffcc"/><rect x="211.45" y="500" width="55.35" height="9.6" fill="#ffeda0"/><rect x="266.50" y="500" width="55.35" height="9.6" fill="#fed976"/><rect x="321.55" y="500" width="55.35" height="9.6" fill="#feb24c"/><rect x="376.60" y="500" width="55.35" height="9.6" fill="#fd8d3c"/><rect x="431.65" y="500" width="55.35" height="9.6" fill="#fc4e2a"/><rect x="486.70" y="500" width="55.35" height="9.6" fill="#e31a1c"/><rect x="541.75" y="500" width="55.35" height="9.6" fill="#bd0026"/><rect x="596.80" y="500" width="55.35" height="9.6" fill="#a40026"/><rect x="651.85" y="500" width="55.35" height="9.6" fill="#800026"/><rect x="156.40" y="500" width="550.50" height="9.6" fill="none" stroke="#ccc" stroke-width="0.5"/><line x1="156.40" y1="497.4" x2="156.40" y2="509.6" stroke="#333" stroke-width="0.6"/><text x="156.40" y="494">0</text><line x1="211.45" y1="497.4" x2="211.45" y2="509.6" stroke="#333" stroke-width="0.6"/><text x="211.45" y="494">1</text><line x1="266.50" y1="497.4" x2="266.50" y2="509.6" stroke="#333" stroke-width="0.6"/><text x="266.50" y="494">3</text><line x1="321.55" y1="497.4" x2="321.55" y2="509.6" stroke="#333" stroke-width="0.6"/><text x="321.55" y="494">10</text><line x1="376.60" y1="497.4" x2="376.60" y2="509.6" stroke="#333" stroke-width="0.6"/><text x="376.60" y="494">30</text><line x1="431.65" y1="497.4" x2="431.65" y2="509.6" stroke="#333" stroke-width="0.6"/><text x="431.65" y="494">100</text><line x1="486.70" y1="497.4" x2="486.70" y2="509.6" stroke="#333" stroke-width="0.6"/><text x="486.70" y="494">300</text><line x1="541.75" y1="497.4" x2="541.75" y2="509.6" stroke="#333" stroke-width="0.6"/><text x="541.75" y="494">1,000</text><line x1="596.80" y1="497.4" x2="596.80" y2="509.6" stroke="#333" stroke-width="0.6"/><text x="596.80" y="494">3,000</text><line x1="651.85" y1="497.4" x2="651.85" y2="509.6" stroke="#333" stroke-width="0.6"/><text x="651.85" y="494">10,000</text><line x1="706.90" y1="497.4" x2="706.90" y2="509.6" stroke="#333" stroke-width="0.6"/><text x="706.90" y="494">30,000</text></g></svg>
<div class="src">Source: Global Terrorism Database (2022)</div>
<div class="cc">OurWorldInData.org/terrorism • CC BY</div>
<div class="hr"></div>
<div class="fn"><b>1. Terrorist attack</b>: The Global Terrorism Database defines a terrorist attack as the threat or use of violence to achieve a political, economic, religious or<br>social goal through intimidation or coercion by an actor that is not the state. For an event to be considered terrorism: - The perpetrators must be acting<br>intentionally - The perpetrators must threaten or use violence against people or property - The perpetrators must not be agents of a state Furthermore, at<br>least two of the following three criteria must be met: - The actions of the perpetrators are in pursuit of a political, economic, religious, or social goal - The<br>actions are aimed at intimidating or coercing more than the immediate victims - The actions target civilians Learn more: The Global Terrorism Database:<br>how do researchers measure terrorism?</div>
</body></html>
